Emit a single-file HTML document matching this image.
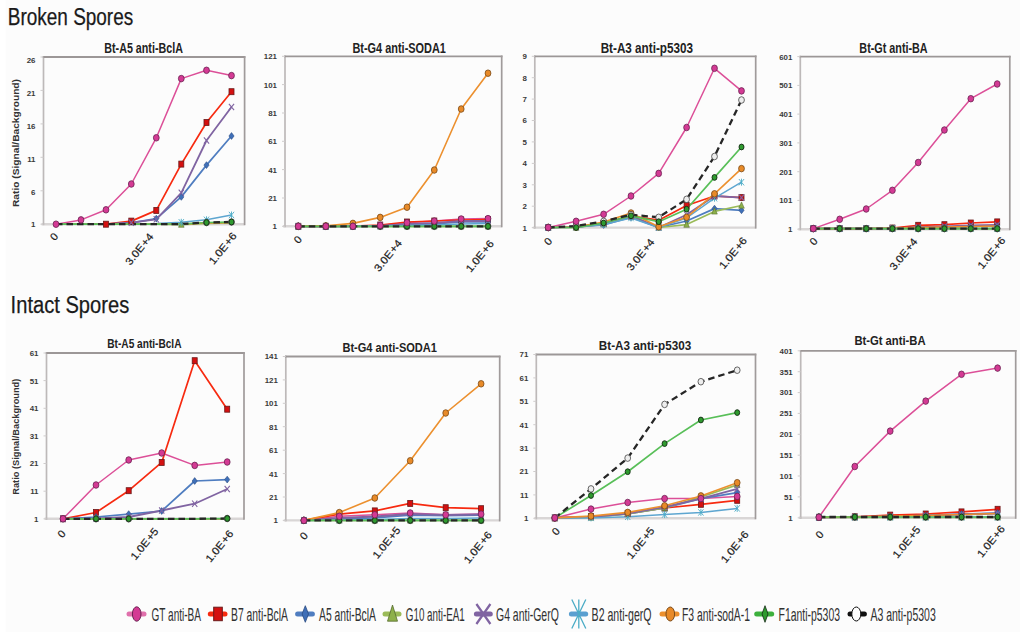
<!DOCTYPE html>
<html><head><meta charset="utf-8"><style>
html,body{margin:0;padding:0;background:#fdfdfd;}
svg{display:block;font-family:"Liberation Sans", sans-serif;}
</style></head><body>
<svg width="1024" height="632" viewBox="0 0 1024 632">
<rect width="1024" height="632" fill="#fcfcfc"/><rect width="5.5" height="632" fill="#ffffff"/><rect x="1020" width="4" height="632" fill="#ffffff"/>

<text x="7.8" y="25.3" font-size="23.5" stroke="#1a1a1a" stroke-width="0.25" textLength="125.4" lengthAdjust="spacingAndGlyphs" fill="#1a1a1a">Broken Spores</text>
<text x="10.6" y="313.2" font-size="23.5" stroke="#1a1a1a" stroke-width="0.25" textLength="118.6" lengthAdjust="spacingAndGlyphs" fill="#1a1a1a">Intact Spores</text>
<text x="18.7" y="143" font-size="9.5" font-weight="bold" text-anchor="middle" textLength="128" lengthAdjust="spacingAndGlyphs" transform="rotate(-90 18.7 143)" fill="#333">Ratio (Signal/Background)</text>
<text x="19" y="436.7" font-size="9" font-weight="bold" text-anchor="middle" textLength="116" lengthAdjust="spacingAndGlyphs" transform="rotate(-90 19 436.7)" fill="#333">Ratio (Signal/Background)</text>

<line x1="41.5" y1="224.2" x2="244.6" y2="224.2" stroke="#d9d6d6" stroke-width="2.4"/>
<line x1="43.5" y1="56.2" x2="43.5" y2="225.2" stroke="#bdb9b9" stroke-width="1.7"/>
<line x1="42.7" y1="57" x2="245.4" y2="57" stroke="#9c9797" stroke-width="1.8"/>
<line x1="244.6" y1="56.2" x2="244.6" y2="225.2" stroke="#a09b9b" stroke-width="1.7"/>
<line x1="40.5" y1="57.0" x2="43.5" y2="57.0" stroke="#cfcccc" stroke-width="1"/>
<text x="35.5" y="63.4" font-size="7.9" font-weight="bold" text-anchor="end" fill="#3a3a3a">26</text>
<line x1="40.5" y1="90.4" x2="43.5" y2="90.4" stroke="#cfcccc" stroke-width="1"/>
<text x="35.5" y="96.2" font-size="7.9" font-weight="bold" text-anchor="end" fill="#3a3a3a">21</text>
<line x1="40.5" y1="123.9" x2="43.5" y2="123.9" stroke="#cfcccc" stroke-width="1"/>
<text x="35.5" y="129.0" font-size="7.9" font-weight="bold" text-anchor="end" fill="#3a3a3a">16</text>
<line x1="40.5" y1="157.3" x2="43.5" y2="157.3" stroke="#cfcccc" stroke-width="1"/>
<text x="35.5" y="161.8" font-size="7.9" font-weight="bold" text-anchor="end" fill="#3a3a3a">11</text>
<line x1="40.5" y1="190.8" x2="43.5" y2="190.8" stroke="#cfcccc" stroke-width="1"/>
<text x="35.5" y="194.6" font-size="7.9" font-weight="bold" text-anchor="end" fill="#3a3a3a">6</text>
<line x1="40.5" y1="224.2" x2="43.5" y2="224.2" stroke="#cfcccc" stroke-width="1"/>
<text x="35.5" y="227.4" font-size="7.9" font-weight="bold" text-anchor="end" fill="#3a3a3a">1</text>
<text x="143.6" y="52.8" font-size="14" font-weight="bold" text-anchor="middle" textLength="78.6" lengthAdjust="spacingAndGlyphs" fill="#222">Bt-A5 anti-BclA</text>
<text x="54" y="240.2" font-size="10.5" text-anchor="middle" stroke="#1a1a1a" stroke-width="0.2" textLength="6.0" lengthAdjust="spacingAndGlyphs" transform="rotate(-51 54 236.6)" fill="#1a1a1a">0</text>
<text x="139.3" y="252.7" font-size="10.5" text-anchor="middle" stroke="#1a1a1a" stroke-width="0.2" textLength="37.5" lengthAdjust="spacingAndGlyphs" transform="rotate(-51 139.3 249.1)" fill="#1a1a1a">3.0E&#8202;+4</text>
<text x="222.7" y="252.0" font-size="10.5" text-anchor="middle" stroke="#1a1a1a" stroke-width="0.2" textLength="37.5" lengthAdjust="spacingAndGlyphs" transform="rotate(-51 222.7 248.4)" fill="#1a1a1a">1.0E&#8202;+6</text>
<path d="M56.0 224.2 L81.0 219.9 L106.0 209.8 L131.3 184.0 L156.3 137.8 L181.3 78.6 L206.5 70.3 L231.5 75.6" fill="none" stroke="#dc4f98" stroke-width="1.5" stroke-linejoin="round"/>
<path d="M56.0 224.2 L81.0 224.2 L106.0 224.2 L131.3 221.1 L156.3 210.4 L181.3 164.1 L206.5 122.5 L231.5 91.7" fill="none" stroke="#f72a10" stroke-width="1.7" stroke-linejoin="round"/>
<path d="M56.0 224.2 L81.0 224.2 L106.0 224.2 L131.3 222.8 L156.3 218.6 L181.3 196.9 L206.5 165.1 L231.5 136.0" fill="none" stroke="#4f7dc0" stroke-width="1.7" stroke-linejoin="round"/>
<path d="M56.0 224.2 L81.0 224.2 L106.0 224.2 L131.3 224.2 L156.3 224.2 L181.3 224.6 L206.5 223.5 L231.5 223.0" fill="none" stroke="#9bbb59" stroke-width="1.7" stroke-linejoin="round"/>
<path d="M56.0 224.2 L81.0 224.2 L106.0 224.2 L131.3 222.6 L156.3 219.3 L181.3 192.8 L206.5 140.5 L231.5 107.0" fill="none" stroke="#8064a2" stroke-width="1.8" stroke-linejoin="round"/>
<path d="M56.0 224.2 L81.0 224.2 L106.0 224.2 L131.3 224.0 L156.3 223.5 L181.3 222.3 L206.5 219.8 L231.5 215.0" fill="none" stroke="#5ea6d0" stroke-width="1.5" stroke-linejoin="round"/>
<path d="M56.0 224.2 L81.0 224.2 L106.0 224.2 L131.3 224.0 L156.3 224.0 L181.3 224.0 L206.5 223.0 L231.5 222.5" fill="none" stroke="#ec902e" stroke-width="1.6" stroke-linejoin="round"/>
<path d="M56.0 224.2 L81.0 224.2 L106.0 224.2 L131.3 224.2 L156.3 224.2 L181.3 224.0 L206.5 222.5 L231.5 222.0" fill="none" stroke="#58bf58" stroke-width="1.7" stroke-linejoin="round"/>
<path d="M56.0 224.2 L81.0 224.2 L106.0 224.2 L131.3 224.2 L156.3 224.2 L181.3 224.0 L206.5 222.5 L231.5 222.0" fill="none" stroke="#262626" stroke-width="2.3" stroke-linejoin="round" stroke-dasharray="6.5 4"/>
<rect x="103.5" y="221.2" width="5.0" height="6.0" fill="#d41010" stroke="#6a1a1a" stroke-width="0.8"/><rect x="128.8" y="218.1" width="5.0" height="6.0" fill="#d41010" stroke="#6a1a1a" stroke-width="0.8"/><rect x="153.8" y="207.4" width="5.0" height="6.0" fill="#d41010" stroke="#6a1a1a" stroke-width="0.8"/><rect x="178.8" y="161.1" width="5.0" height="6.0" fill="#d41010" stroke="#6a1a1a" stroke-width="0.8"/><rect x="204.0" y="119.5" width="5.0" height="6.0" fill="#d41010" stroke="#6a1a1a" stroke-width="0.8"/><rect x="229.0" y="88.7" width="5.0" height="6.0" fill="#d41010" stroke="#6a1a1a" stroke-width="0.8"/>
<path d="M156.3 215.2L158.9 218.6L156.3 222.0L153.7 218.6Z" fill="#3f6fb8" stroke="#2a4a80" stroke-width="0.5599999999999999"/><path d="M181.3 193.5L183.9 196.9L181.3 200.3L178.7 196.9Z" fill="#3f6fb8" stroke="#2a4a80" stroke-width="0.5599999999999999"/><path d="M206.5 161.7L209.1 165.1L206.5 168.5L203.9 165.1Z" fill="#3f6fb8" stroke="#2a4a80" stroke-width="0.5599999999999999"/><path d="M231.5 132.6L234.1 136.0L231.5 139.4L228.9 136.0Z" fill="#3f6fb8" stroke="#2a4a80" stroke-width="0.5599999999999999"/>
<path d="M181.3 221.0L184.1 227.3L178.5 227.3Z" fill="#8db04a" stroke="#556b2f" stroke-width="0.5599999999999999"/>
<path d="M128.7 219.4L133.9 225.8M133.9 219.4L128.7 225.8" stroke="#8064a2" stroke-width="1.1" fill="none"/><path d="M153.7 216.1L158.9 222.5M158.9 216.1L153.7 222.5" stroke="#8064a2" stroke-width="1.1" fill="none"/><path d="M178.7 189.6L183.9 196.0M183.9 189.6L178.7 196.0" stroke="#8064a2" stroke-width="1.1" fill="none"/><path d="M203.9 137.3L209.1 143.7M209.1 137.3L203.9 143.7" stroke="#8064a2" stroke-width="1.1" fill="none"/><path d="M228.9 103.8L234.1 110.2M234.1 103.8L228.9 110.2" stroke="#8064a2" stroke-width="1.1" fill="none"/>
<path d="M178.7 219.1L183.9 225.5M183.9 219.1L178.7 225.5M181.3 218.8L181.3 225.8" stroke="#4bacc6" stroke-width="0.9" fill="none"/><path d="M203.9 216.6L209.1 223.0M209.1 216.6L203.9 223.0M206.5 216.3L206.5 223.3" stroke="#4bacc6" stroke-width="0.9" fill="none"/><path d="M228.9 211.8L234.1 218.2M234.1 211.8L228.9 218.2M231.5 211.5L231.5 218.5" stroke="#4bacc6" stroke-width="0.9" fill="none"/>

<ellipse cx="206.5" cy="222.5" rx="2.90" ry="3.30" fill="#eeeeee" stroke="#444444" stroke-width="0.8"/><ellipse cx="231.5" cy="222.0" rx="2.90" ry="3.30" fill="#eeeeee" stroke="#444444" stroke-width="0.8"/>
<ellipse cx="206.5" cy="222.5" rx="2.5" ry="2.9" fill="#2f9a2f" stroke="#142a14" stroke-width="0.9"/><ellipse cx="231.5" cy="222.0" rx="2.5" ry="2.9" fill="#2f9a2f" stroke="#142a14" stroke-width="0.9"/>
<ellipse cx="56.0" cy="224.2" rx="2.90" ry="3.30" fill="#d43a94" stroke="#6a2352" stroke-width="0.8"/><ellipse cx="81.0" cy="219.9" rx="2.90" ry="3.30" fill="#d43a94" stroke="#6a2352" stroke-width="0.8"/><ellipse cx="106.0" cy="209.8" rx="2.90" ry="3.30" fill="#d43a94" stroke="#6a2352" stroke-width="0.8"/><ellipse cx="131.3" cy="184.0" rx="2.90" ry="3.30" fill="#d43a94" stroke="#6a2352" stroke-width="0.8"/><ellipse cx="156.3" cy="137.8" rx="2.90" ry="3.30" fill="#d43a94" stroke="#6a2352" stroke-width="0.8"/><ellipse cx="181.3" cy="78.6" rx="2.90" ry="3.30" fill="#d43a94" stroke="#6a2352" stroke-width="0.8"/><ellipse cx="206.5" cy="70.3" rx="2.90" ry="3.30" fill="#d43a94" stroke="#6a2352" stroke-width="0.8"/><ellipse cx="231.5" cy="75.6" rx="2.90" ry="3.30" fill="#d43a94" stroke="#6a2352" stroke-width="0.8"/><line x1="283" y1="226.3" x2="501.7" y2="226.3" stroke="#d9d6d6" stroke-width="2.4"/>
<line x1="285" y1="55.5" x2="285" y2="227.3" stroke="#bdb9b9" stroke-width="1.7"/>
<line x1="284.2" y1="56.3" x2="502.5" y2="56.3" stroke="#9c9797" stroke-width="1.8"/>
<line x1="501.7" y1="55.5" x2="501.7" y2="227.3" stroke="#a09b9b" stroke-width="1.7"/>
<line x1="282" y1="56.3" x2="285" y2="56.3" stroke="#cfcccc" stroke-width="1"/>
<text x="277" y="59.2" font-size="7.9" font-weight="bold" text-anchor="end" fill="#3a3a3a">121</text>
<line x1="282" y1="84.6" x2="285" y2="84.6" stroke="#cfcccc" stroke-width="1"/>
<text x="277" y="87.5" font-size="7.9" font-weight="bold" text-anchor="end" fill="#3a3a3a">101</text>
<line x1="282" y1="113.0" x2="285" y2="113.0" stroke="#cfcccc" stroke-width="1"/>
<text x="277" y="115.9" font-size="7.9" font-weight="bold" text-anchor="end" fill="#3a3a3a">81</text>
<line x1="282" y1="141.3" x2="285" y2="141.3" stroke="#cfcccc" stroke-width="1"/>
<text x="277" y="144.2" font-size="7.9" font-weight="bold" text-anchor="end" fill="#3a3a3a">61</text>
<line x1="282" y1="169.6" x2="285" y2="169.6" stroke="#cfcccc" stroke-width="1"/>
<text x="277" y="172.5" font-size="7.9" font-weight="bold" text-anchor="end" fill="#3a3a3a">41</text>
<line x1="282" y1="198.0" x2="285" y2="198.0" stroke="#cfcccc" stroke-width="1"/>
<text x="277" y="200.9" font-size="7.9" font-weight="bold" text-anchor="end" fill="#3a3a3a">21</text>
<line x1="282" y1="226.3" x2="285" y2="226.3" stroke="#cfcccc" stroke-width="1"/>
<text x="277" y="229.2" font-size="7.9" font-weight="bold" text-anchor="end" fill="#3a3a3a">1</text>
<text x="399.2" y="53.0" font-size="14" font-weight="bold" text-anchor="middle" textLength="93.5" lengthAdjust="spacingAndGlyphs" fill="#222">Bt-G4 anti-SODA1</text>
<text x="297.9" y="243.2" font-size="10.5" text-anchor="middle" stroke="#1a1a1a" stroke-width="0.2" textLength="6.0" lengthAdjust="spacingAndGlyphs" transform="rotate(-51 297.9 239.6)" fill="#1a1a1a">0</text>
<text x="387.9" y="259.2" font-size="10.5" text-anchor="middle" stroke="#1a1a1a" stroke-width="0.2" textLength="37.5" lengthAdjust="spacingAndGlyphs" transform="rotate(-51 387.9 255.6)" fill="#1a1a1a">3.0E&#8202;+4</text>
<text x="479.8" y="259.8" font-size="10.5" text-anchor="middle" stroke="#1a1a1a" stroke-width="0.2" textLength="37.5" lengthAdjust="spacingAndGlyphs" transform="rotate(-51 479.8 256.2)" fill="#1a1a1a">1.0E&#8202;+6</text>
<path d="M298.3 226.3 L325.8 226.3 L352.9 226.3 L380.2 225.4 L407.0 222.7 L434.3 221.1 L461.2 219.0 L488.0 218.6" fill="none" stroke="#dc4f98" stroke-width="1.5" stroke-linejoin="round"/>
<path d="M298.3 226.3 L325.8 226.3 L352.9 226.0 L380.2 225.0 L407.0 222.0 L434.3 221.0 L461.2 220.0 L488.0 219.5" fill="none" stroke="#f72a10" stroke-width="1.7" stroke-linejoin="round"/>
<path d="M298.3 226.3 L325.8 226.3 L352.9 226.3 L380.2 226.0 L407.0 225.0 L434.3 224.0 L461.2 222.0 L488.0 222.0" fill="none" stroke="#4f7dc0" stroke-width="1.7" stroke-linejoin="round"/>
<path d="M298.3 226.3 L325.8 226.3 L352.9 226.3 L380.2 226.3 L407.0 226.3 L434.3 226.3 L461.2 226.3 L488.0 226.3" fill="none" stroke="#9bbb59" stroke-width="1.7" stroke-linejoin="round"/>
<path d="M298.3 226.3 L325.8 226.3 L352.9 226.3 L380.2 226.0 L407.0 224.0 L434.3 223.0 L461.2 221.0 L488.0 221.0" fill="none" stroke="#8064a2" stroke-width="1.8" stroke-linejoin="round"/>
<path d="M298.3 226.3 L325.8 226.3 L352.9 226.3 L380.2 226.0 L407.0 225.5 L434.3 225.0 L461.2 224.0 L488.0 223.5" fill="none" stroke="#5ea6d0" stroke-width="1.5" stroke-linejoin="round"/>
<path d="M298.3 226.3 L325.8 225.9 L352.9 223.4 L380.2 217.4 L407.0 207.2 L434.3 170.0 L461.2 109.0 L488.0 73.2" fill="none" stroke="#ec902e" stroke-width="1.6" stroke-linejoin="round"/>
<path d="M298.3 226.3 L325.8 226.3 L352.9 226.3 L380.2 226.3 L407.0 226.3 L434.3 226.3 L461.2 226.3 L488.0 226.3" fill="none" stroke="#58bf58" stroke-width="1.7" stroke-linejoin="round"/>
<path d="M298.3 226.3 L325.8 226.3 L352.9 226.3 L380.2 226.3 L407.0 226.3 L434.3 226.3 L461.2 226.3 L488.0 226.3" fill="none" stroke="#262626" stroke-width="2.3" stroke-linejoin="round" stroke-dasharray="6.5 4"/>
<rect x="295.8" y="223.3" width="5.0" height="6.0" fill="#d41010" stroke="#6a1a1a" stroke-width="0.8"/><rect x="323.3" y="223.3" width="5.0" height="6.0" fill="#d41010" stroke="#6a1a1a" stroke-width="0.8"/><rect x="350.4" y="223.0" width="5.0" height="6.0" fill="#d41010" stroke="#6a1a1a" stroke-width="0.8"/><rect x="377.7" y="222.0" width="5.0" height="6.0" fill="#d41010" stroke="#6a1a1a" stroke-width="0.8"/><rect x="404.5" y="219.0" width="5.0" height="6.0" fill="#d41010" stroke="#6a1a1a" stroke-width="0.8"/><rect x="431.8" y="218.0" width="5.0" height="6.0" fill="#d41010" stroke="#6a1a1a" stroke-width="0.8"/><rect x="458.7" y="217.0" width="5.0" height="6.0" fill="#d41010" stroke="#6a1a1a" stroke-width="0.8"/><rect x="485.5" y="216.5" width="5.0" height="6.0" fill="#d41010" stroke="#6a1a1a" stroke-width="0.8"/>
<path d="M298.3 222.9L300.9 226.3L298.3 229.7L295.7 226.3Z" fill="#3f6fb8" stroke="#2a4a80" stroke-width="0.5599999999999999"/><path d="M325.8 222.9L328.4 226.3L325.8 229.7L323.2 226.3Z" fill="#3f6fb8" stroke="#2a4a80" stroke-width="0.5599999999999999"/><path d="M352.9 222.9L355.5 226.3L352.9 229.7L350.3 226.3Z" fill="#3f6fb8" stroke="#2a4a80" stroke-width="0.5599999999999999"/><path d="M380.2 222.6L382.8 226.0L380.2 229.4L377.6 226.0Z" fill="#3f6fb8" stroke="#2a4a80" stroke-width="0.5599999999999999"/><path d="M407.0 221.6L409.6 225.0L407.0 228.4L404.4 225.0Z" fill="#3f6fb8" stroke="#2a4a80" stroke-width="0.5599999999999999"/><path d="M434.3 220.6L436.9 224.0L434.3 227.4L431.7 224.0Z" fill="#3f6fb8" stroke="#2a4a80" stroke-width="0.5599999999999999"/><path d="M461.2 218.6L463.8 222.0L461.2 225.4L458.6 222.0Z" fill="#3f6fb8" stroke="#2a4a80" stroke-width="0.5599999999999999"/><path d="M488.0 218.6L490.6 222.0L488.0 225.4L485.4 222.0Z" fill="#3f6fb8" stroke="#2a4a80" stroke-width="0.5599999999999999"/>
<path d="M298.3 222.7L301.1 229.0L295.5 229.0Z" fill="#8db04a" stroke="#556b2f" stroke-width="0.5599999999999999"/><path d="M325.8 222.7L328.6 229.0L323.0 229.0Z" fill="#8db04a" stroke="#556b2f" stroke-width="0.5599999999999999"/><path d="M352.9 222.7L355.7 229.0L350.1 229.0Z" fill="#8db04a" stroke="#556b2f" stroke-width="0.5599999999999999"/><path d="M380.2 222.7L383.0 229.0L377.4 229.0Z" fill="#8db04a" stroke="#556b2f" stroke-width="0.5599999999999999"/><path d="M407.0 222.7L409.8 229.0L404.2 229.0Z" fill="#8db04a" stroke="#556b2f" stroke-width="0.5599999999999999"/><path d="M434.3 222.7L437.1 229.0L431.5 229.0Z" fill="#8db04a" stroke="#556b2f" stroke-width="0.5599999999999999"/><path d="M461.2 222.7L464.0 229.0L458.4 229.0Z" fill="#8db04a" stroke="#556b2f" stroke-width="0.5599999999999999"/><path d="M488.0 222.7L490.8 229.0L485.2 229.0Z" fill="#8db04a" stroke="#556b2f" stroke-width="0.5599999999999999"/>
<path d="M295.7 223.1L300.9 229.5M300.9 223.1L295.7 229.5" stroke="#8064a2" stroke-width="1.1" fill="none"/><path d="M323.2 223.1L328.4 229.5M328.4 223.1L323.2 229.5" stroke="#8064a2" stroke-width="1.1" fill="none"/><path d="M350.3 223.1L355.5 229.5M355.5 223.1L350.3 229.5" stroke="#8064a2" stroke-width="1.1" fill="none"/><path d="M377.6 222.8L382.8 229.2M382.8 222.8L377.6 229.2" stroke="#8064a2" stroke-width="1.1" fill="none"/><path d="M404.4 220.8L409.6 227.2M409.6 220.8L404.4 227.2" stroke="#8064a2" stroke-width="1.1" fill="none"/><path d="M431.7 219.8L436.9 226.2M436.9 219.8L431.7 226.2" stroke="#8064a2" stroke-width="1.1" fill="none"/><path d="M458.6 217.8L463.8 224.2M463.8 217.8L458.6 224.2" stroke="#8064a2" stroke-width="1.1" fill="none"/><path d="M485.4 217.8L490.6 224.2M490.6 217.8L485.4 224.2" stroke="#8064a2" stroke-width="1.1" fill="none"/>
<path d="M295.7 223.1L300.9 229.5M300.9 223.1L295.7 229.5M298.3 222.8L298.3 229.8" stroke="#4bacc6" stroke-width="0.9" fill="none"/><path d="M323.2 223.1L328.4 229.5M328.4 223.1L323.2 229.5M325.8 222.8L325.8 229.8" stroke="#4bacc6" stroke-width="0.9" fill="none"/><path d="M350.3 223.1L355.5 229.5M355.5 223.1L350.3 229.5M352.9 222.8L352.9 229.8" stroke="#4bacc6" stroke-width="0.9" fill="none"/><path d="M377.6 222.8L382.8 229.2M382.8 222.8L377.6 229.2M380.2 222.5L380.2 229.5" stroke="#4bacc6" stroke-width="0.9" fill="none"/><path d="M404.4 222.3L409.6 228.7M409.6 222.3L404.4 228.7M407.0 222.0L407.0 229.0" stroke="#4bacc6" stroke-width="0.9" fill="none"/><path d="M431.7 221.8L436.9 228.2M436.9 221.8L431.7 228.2M434.3 221.5L434.3 228.5" stroke="#4bacc6" stroke-width="0.9" fill="none"/><path d="M458.6 220.8L463.8 227.2M463.8 220.8L458.6 227.2M461.2 220.5L461.2 227.5" stroke="#4bacc6" stroke-width="0.9" fill="none"/><path d="M485.4 220.3L490.6 226.7M490.6 220.3L485.4 226.7M488.0 220.0L488.0 227.0" stroke="#4bacc6" stroke-width="0.9" fill="none"/>
<ellipse cx="298.3" cy="226.3" rx="2.90" ry="3.30" fill="#e88a28" stroke="#7a4a18" stroke-width="0.8"/><ellipse cx="325.8" cy="225.9" rx="2.90" ry="3.30" fill="#e88a28" stroke="#7a4a18" stroke-width="0.8"/><ellipse cx="352.9" cy="223.4" rx="2.90" ry="3.30" fill="#e88a28" stroke="#7a4a18" stroke-width="0.8"/><ellipse cx="380.2" cy="217.4" rx="2.90" ry="3.30" fill="#e88a28" stroke="#7a4a18" stroke-width="0.8"/><ellipse cx="407.0" cy="207.2" rx="2.90" ry="3.30" fill="#e88a28" stroke="#7a4a18" stroke-width="0.8"/><ellipse cx="434.3" cy="170.0" rx="2.90" ry="3.30" fill="#e88a28" stroke="#7a4a18" stroke-width="0.8"/><ellipse cx="461.2" cy="109.0" rx="2.90" ry="3.30" fill="#e88a28" stroke="#7a4a18" stroke-width="0.8"/><ellipse cx="488.0" cy="73.2" rx="2.90" ry="3.30" fill="#e88a28" stroke="#7a4a18" stroke-width="0.8"/>
<ellipse cx="298.3" cy="226.3" rx="2.90" ry="3.30" fill="#eeeeee" stroke="#444444" stroke-width="0.8"/><ellipse cx="325.8" cy="226.3" rx="2.90" ry="3.30" fill="#eeeeee" stroke="#444444" stroke-width="0.8"/><ellipse cx="352.9" cy="226.3" rx="2.90" ry="3.30" fill="#eeeeee" stroke="#444444" stroke-width="0.8"/><ellipse cx="380.2" cy="226.3" rx="2.90" ry="3.30" fill="#eeeeee" stroke="#444444" stroke-width="0.8"/><ellipse cx="407.0" cy="226.3" rx="2.90" ry="3.30" fill="#eeeeee" stroke="#444444" stroke-width="0.8"/><ellipse cx="434.3" cy="226.3" rx="2.90" ry="3.30" fill="#eeeeee" stroke="#444444" stroke-width="0.8"/><ellipse cx="461.2" cy="226.3" rx="2.90" ry="3.30" fill="#eeeeee" stroke="#444444" stroke-width="0.8"/><ellipse cx="488.0" cy="226.3" rx="2.90" ry="3.30" fill="#eeeeee" stroke="#444444" stroke-width="0.8"/>
<ellipse cx="298.3" cy="226.3" rx="2.5" ry="2.9" fill="#2f9a2f" stroke="#142a14" stroke-width="0.9"/><ellipse cx="325.8" cy="226.3" rx="2.5" ry="2.9" fill="#2f9a2f" stroke="#142a14" stroke-width="0.9"/><ellipse cx="352.9" cy="226.3" rx="2.5" ry="2.9" fill="#2f9a2f" stroke="#142a14" stroke-width="0.9"/><ellipse cx="380.2" cy="226.3" rx="2.5" ry="2.9" fill="#2f9a2f" stroke="#142a14" stroke-width="0.9"/><ellipse cx="407.0" cy="226.3" rx="2.5" ry="2.9" fill="#2f9a2f" stroke="#142a14" stroke-width="0.9"/><ellipse cx="434.3" cy="226.3" rx="2.5" ry="2.9" fill="#2f9a2f" stroke="#142a14" stroke-width="0.9"/><ellipse cx="461.2" cy="226.3" rx="2.5" ry="2.9" fill="#2f9a2f" stroke="#142a14" stroke-width="0.9"/><ellipse cx="488.0" cy="226.3" rx="2.5" ry="2.9" fill="#2f9a2f" stroke="#142a14" stroke-width="0.9"/>
<ellipse cx="298.3" cy="226.3" rx="2.90" ry="3.30" fill="#d43a94" stroke="#6a2352" stroke-width="0.8"/><ellipse cx="325.8" cy="226.3" rx="2.90" ry="3.30" fill="#d43a94" stroke="#6a2352" stroke-width="0.8"/><ellipse cx="352.9" cy="226.3" rx="2.90" ry="3.30" fill="#d43a94" stroke="#6a2352" stroke-width="0.8"/><ellipse cx="380.2" cy="225.4" rx="2.90" ry="3.30" fill="#d43a94" stroke="#6a2352" stroke-width="0.8"/><ellipse cx="407.0" cy="222.7" rx="2.90" ry="3.30" fill="#d43a94" stroke="#6a2352" stroke-width="0.8"/><ellipse cx="434.3" cy="221.1" rx="2.90" ry="3.30" fill="#d43a94" stroke="#6a2352" stroke-width="0.8"/><ellipse cx="461.2" cy="219.0" rx="2.90" ry="3.30" fill="#d43a94" stroke="#6a2352" stroke-width="0.8"/><ellipse cx="488.0" cy="218.6" rx="2.90" ry="3.30" fill="#d43a94" stroke="#6a2352" stroke-width="0.8"/><line x1="532.8" y1="227.6" x2="755.7" y2="227.6" stroke="#d9d6d6" stroke-width="2.4"/>
<line x1="534.8" y1="55.5" x2="534.8" y2="228.6" stroke="#bdb9b9" stroke-width="1.7"/>
<line x1="534.0" y1="56.3" x2="756.5" y2="56.3" stroke="#9c9797" stroke-width="1.8"/>
<line x1="755.7" y1="55.5" x2="755.7" y2="228.6" stroke="#a09b9b" stroke-width="1.7"/>
<line x1="531.8" y1="56.3" x2="534.8" y2="56.3" stroke="#cfcccc" stroke-width="1"/>
<text x="526.8" y="59.2" font-size="7.9" font-weight="bold" text-anchor="end" fill="#3a3a3a">9</text>
<line x1="531.8" y1="77.7" x2="534.8" y2="77.7" stroke="#cfcccc" stroke-width="1"/>
<text x="526.8" y="80.6" font-size="7.9" font-weight="bold" text-anchor="end" fill="#3a3a3a">8</text>
<line x1="531.8" y1="99.1" x2="534.8" y2="99.1" stroke="#cfcccc" stroke-width="1"/>
<text x="526.8" y="102.0" font-size="7.9" font-weight="bold" text-anchor="end" fill="#3a3a3a">7</text>
<line x1="531.8" y1="120.5" x2="534.8" y2="120.5" stroke="#cfcccc" stroke-width="1"/>
<text x="526.8" y="123.4" font-size="7.9" font-weight="bold" text-anchor="end" fill="#3a3a3a">6</text>
<line x1="531.8" y1="141.9" x2="534.8" y2="141.9" stroke="#cfcccc" stroke-width="1"/>
<text x="526.8" y="144.8" font-size="7.9" font-weight="bold" text-anchor="end" fill="#3a3a3a">5</text>
<line x1="531.8" y1="163.4" x2="534.8" y2="163.4" stroke="#cfcccc" stroke-width="1"/>
<text x="526.8" y="166.3" font-size="7.9" font-weight="bold" text-anchor="end" fill="#3a3a3a">4</text>
<line x1="531.8" y1="184.8" x2="534.8" y2="184.8" stroke="#cfcccc" stroke-width="1"/>
<text x="526.8" y="187.7" font-size="7.9" font-weight="bold" text-anchor="end" fill="#3a3a3a">3</text>
<line x1="531.8" y1="206.2" x2="534.8" y2="206.2" stroke="#cfcccc" stroke-width="1"/>
<text x="526.8" y="209.1" font-size="7.9" font-weight="bold" text-anchor="end" fill="#3a3a3a">2</text>
<line x1="531.8" y1="227.6" x2="534.8" y2="227.6" stroke="#cfcccc" stroke-width="1"/>
<text x="526.8" y="230.5" font-size="7.9" font-weight="bold" text-anchor="end" fill="#3a3a3a">1</text>
<text x="646.8" y="52.6" font-size="14" font-weight="bold" text-anchor="middle" textLength="92.3" lengthAdjust="spacingAndGlyphs" fill="#222">Bt-A3 anti-p5303</text>
<text x="548.2" y="245.1" font-size="10.5" text-anchor="middle" stroke="#1a1a1a" stroke-width="0.2" textLength="6.0" lengthAdjust="spacingAndGlyphs" transform="rotate(-51 548.2 241.5)" fill="#1a1a1a">0</text>
<text x="640.5" y="258.3" font-size="10.5" text-anchor="middle" stroke="#1a1a1a" stroke-width="0.2" textLength="37.5" lengthAdjust="spacingAndGlyphs" transform="rotate(-51 640.5 254.7)" fill="#1a1a1a">3.0E&#8202;+4</text>
<text x="733" y="256.6" font-size="10.5" text-anchor="middle" stroke="#1a1a1a" stroke-width="0.2" textLength="37.5" lengthAdjust="spacingAndGlyphs" transform="rotate(-51 733 253)" fill="#1a1a1a">1.0E&#8202;+6</text>
<path d="M548.2 227.5 L576.1 221.3 L603.6 214.3 L631.0 196.0 L658.7 173.4 L686.6 127.5 L714.5 68.3 L741.5 90.9" fill="none" stroke="#dc4f98" stroke-width="1.5" stroke-linejoin="round"/>
<path d="M548.2 227.5 L576.1 226.5 L603.6 223.5 L631.0 216.0 L658.7 220.2 L686.6 205.5 L714.5 196.0 L741.5 197.6" fill="none" stroke="#f72a10" stroke-width="1.7" stroke-linejoin="round"/>
<path d="M548.2 227.5 L576.1 227.0 L603.6 225.0 L631.0 217.3 L658.7 227.5 L686.6 221.0 L714.5 208.6 L741.5 210.3" fill="none" stroke="#4f7dc0" stroke-width="1.7" stroke-linejoin="round"/>
<path d="M548.2 227.5 L576.1 227.5 L603.6 224.0 L631.0 216.0 L658.7 227.5 L686.6 224.6 L714.5 211.4 L741.5 205.5" fill="none" stroke="#9bbb59" stroke-width="1.7" stroke-linejoin="round"/>
<path d="M548.2 227.5 L576.1 227.0 L603.6 223.5 L631.0 215.5 L658.7 227.5 L686.6 214.7 L714.5 196.0 L741.5 197.6" fill="none" stroke="#8064a2" stroke-width="1.8" stroke-linejoin="round"/>
<path d="M548.2 227.5 L576.1 227.0 L603.6 224.5 L631.0 218.0 L658.7 227.5 L686.6 218.0 L714.5 198.2 L741.5 182.2" fill="none" stroke="#5ea6d0" stroke-width="1.5" stroke-linejoin="round"/>
<path d="M548.2 227.5 L576.1 227.0 L603.6 222.0 L631.0 213.0 L658.7 226.8 L686.6 217.3 L714.5 193.8 L741.5 168.6" fill="none" stroke="#ec902e" stroke-width="1.6" stroke-linejoin="round"/>
<path d="M548.2 227.5 L576.1 227.5 L603.6 223.0 L631.0 215.8 L658.7 221.7 L686.6 209.2 L714.5 177.4 L741.5 147.0" fill="none" stroke="#58bf58" stroke-width="1.7" stroke-linejoin="round"/>
<path d="M548.2 227.5 L576.1 226.1 L603.6 221.3 L631.0 214.7 L658.7 217.3 L686.6 199.3 L714.5 156.5 L741.5 100.0" fill="none" stroke="#262626" stroke-width="2.3" stroke-linejoin="round" stroke-dasharray="6.5 4"/>
<rect x="545.7" y="224.5" width="5.0" height="6.0" fill="#d41010" stroke="#6a1a1a" stroke-width="0.8"/><rect x="573.6" y="223.5" width="5.0" height="6.0" fill="#d41010" stroke="#6a1a1a" stroke-width="0.8"/><rect x="601.1" y="220.5" width="5.0" height="6.0" fill="#d41010" stroke="#6a1a1a" stroke-width="0.8"/><rect x="628.5" y="213.0" width="5.0" height="6.0" fill="#d41010" stroke="#6a1a1a" stroke-width="0.8"/><rect x="656.2" y="217.2" width="5.0" height="6.0" fill="#d41010" stroke="#6a1a1a" stroke-width="0.8"/><rect x="684.1" y="202.5" width="5.0" height="6.0" fill="#d41010" stroke="#6a1a1a" stroke-width="0.8"/><rect x="712.0" y="193.0" width="5.0" height="6.0" fill="#d41010" stroke="#6a1a1a" stroke-width="0.8"/><rect x="739.0" y="194.6" width="5.0" height="6.0" fill="#d41010" stroke="#6a1a1a" stroke-width="0.8"/>
<path d="M548.2 224.1L550.8 227.5L548.2 230.9L545.6 227.5Z" fill="#3f6fb8" stroke="#2a4a80" stroke-width="0.5599999999999999"/><path d="M576.1 223.6L578.7 227.0L576.1 230.4L573.5 227.0Z" fill="#3f6fb8" stroke="#2a4a80" stroke-width="0.5599999999999999"/><path d="M603.6 221.6L606.2 225.0L603.6 228.4L601.0 225.0Z" fill="#3f6fb8" stroke="#2a4a80" stroke-width="0.5599999999999999"/><path d="M631.0 213.9L633.6 217.3L631.0 220.7L628.4 217.3Z" fill="#3f6fb8" stroke="#2a4a80" stroke-width="0.5599999999999999"/><path d="M658.7 224.1L661.3 227.5L658.7 230.9L656.1 227.5Z" fill="#3f6fb8" stroke="#2a4a80" stroke-width="0.5599999999999999"/><path d="M686.6 217.6L689.2 221.0L686.6 224.4L684.0 221.0Z" fill="#3f6fb8" stroke="#2a4a80" stroke-width="0.5599999999999999"/><path d="M714.5 205.2L717.1 208.6L714.5 212.0L711.9 208.6Z" fill="#3f6fb8" stroke="#2a4a80" stroke-width="0.5599999999999999"/><path d="M741.5 206.9L744.1 210.3L741.5 213.7L738.9 210.3Z" fill="#3f6fb8" stroke="#2a4a80" stroke-width="0.5599999999999999"/>
<path d="M548.2 223.9L551.0 230.2L545.4 230.2Z" fill="#8db04a" stroke="#556b2f" stroke-width="0.5599999999999999"/><path d="M576.1 223.9L578.9 230.2L573.3 230.2Z" fill="#8db04a" stroke="#556b2f" stroke-width="0.5599999999999999"/><path d="M603.6 220.4L606.4 226.7L600.8 226.7Z" fill="#8db04a" stroke="#556b2f" stroke-width="0.5599999999999999"/><path d="M631.0 212.4L633.8 218.7L628.2 218.7Z" fill="#8db04a" stroke="#556b2f" stroke-width="0.5599999999999999"/><path d="M658.7 223.9L661.5 230.2L655.9 230.2Z" fill="#8db04a" stroke="#556b2f" stroke-width="0.5599999999999999"/><path d="M686.6 221.0L689.4 227.3L683.8 227.3Z" fill="#8db04a" stroke="#556b2f" stroke-width="0.5599999999999999"/><path d="M714.5 207.8L717.3 214.1L711.7 214.1Z" fill="#8db04a" stroke="#556b2f" stroke-width="0.5599999999999999"/><path d="M741.5 201.9L744.3 208.2L738.7 208.2Z" fill="#8db04a" stroke="#556b2f" stroke-width="0.5599999999999999"/>
<path d="M545.6 224.3L550.8 230.7M550.8 224.3L545.6 230.7" stroke="#8064a2" stroke-width="1.1" fill="none"/><path d="M573.5 223.8L578.7 230.2M578.7 223.8L573.5 230.2" stroke="#8064a2" stroke-width="1.1" fill="none"/><path d="M601.0 220.3L606.2 226.7M606.2 220.3L601.0 226.7" stroke="#8064a2" stroke-width="1.1" fill="none"/><path d="M628.4 212.3L633.6 218.7M633.6 212.3L628.4 218.7" stroke="#8064a2" stroke-width="1.1" fill="none"/><path d="M656.1 224.3L661.3 230.7M661.3 224.3L656.1 230.7" stroke="#8064a2" stroke-width="1.1" fill="none"/><path d="M684.0 211.5L689.2 217.9M689.2 211.5L684.0 217.9" stroke="#8064a2" stroke-width="1.1" fill="none"/><path d="M711.9 192.8L717.1 199.2M717.1 192.8L711.9 199.2" stroke="#8064a2" stroke-width="1.1" fill="none"/><path d="M738.9 194.4L744.1 200.8M744.1 194.4L738.9 200.8" stroke="#8064a2" stroke-width="1.1" fill="none"/>
<path d="M545.6 224.3L550.8 230.7M550.8 224.3L545.6 230.7M548.2 224.0L548.2 231.0" stroke="#4bacc6" stroke-width="0.9" fill="none"/><path d="M573.5 223.8L578.7 230.2M578.7 223.8L573.5 230.2M576.1 223.5L576.1 230.5" stroke="#4bacc6" stroke-width="0.9" fill="none"/><path d="M601.0 221.3L606.2 227.7M606.2 221.3L601.0 227.7M603.6 221.0L603.6 228.0" stroke="#4bacc6" stroke-width="0.9" fill="none"/><path d="M628.4 214.8L633.6 221.2M633.6 214.8L628.4 221.2M631.0 214.5L631.0 221.5" stroke="#4bacc6" stroke-width="0.9" fill="none"/><path d="M656.1 224.3L661.3 230.7M661.3 224.3L656.1 230.7M658.7 224.0L658.7 231.0" stroke="#4bacc6" stroke-width="0.9" fill="none"/><path d="M684.0 214.8L689.2 221.2M689.2 214.8L684.0 221.2M686.6 214.5L686.6 221.5" stroke="#4bacc6" stroke-width="0.9" fill="none"/><path d="M711.9 195.0L717.1 201.4M717.1 195.0L711.9 201.4M714.5 194.7L714.5 201.7" stroke="#4bacc6" stroke-width="0.9" fill="none"/><path d="M738.9 179.0L744.1 185.4M744.1 179.0L738.9 185.4M741.5 178.7L741.5 185.7" stroke="#4bacc6" stroke-width="0.9" fill="none"/>
<ellipse cx="548.2" cy="227.5" rx="2.90" ry="3.30" fill="#e88a28" stroke="#7a4a18" stroke-width="0.8"/><ellipse cx="576.1" cy="227.0" rx="2.90" ry="3.30" fill="#e88a28" stroke="#7a4a18" stroke-width="0.8"/><ellipse cx="603.6" cy="222.0" rx="2.90" ry="3.30" fill="#e88a28" stroke="#7a4a18" stroke-width="0.8"/><ellipse cx="631.0" cy="213.0" rx="2.90" ry="3.30" fill="#e88a28" stroke="#7a4a18" stroke-width="0.8"/><ellipse cx="658.7" cy="226.8" rx="2.90" ry="3.30" fill="#e88a28" stroke="#7a4a18" stroke-width="0.8"/><ellipse cx="686.6" cy="217.3" rx="2.90" ry="3.30" fill="#e88a28" stroke="#7a4a18" stroke-width="0.8"/><ellipse cx="714.5" cy="193.8" rx="2.90" ry="3.30" fill="#e88a28" stroke="#7a4a18" stroke-width="0.8"/><ellipse cx="741.5" cy="168.6" rx="2.90" ry="3.30" fill="#e88a28" stroke="#7a4a18" stroke-width="0.8"/>
<ellipse cx="548.2" cy="227.5" rx="2.90" ry="3.30" fill="#eeeeee" stroke="#444444" stroke-width="0.8"/><ellipse cx="576.1" cy="226.1" rx="2.90" ry="3.30" fill="#eeeeee" stroke="#444444" stroke-width="0.8"/><ellipse cx="603.6" cy="221.3" rx="2.90" ry="3.30" fill="#eeeeee" stroke="#444444" stroke-width="0.8"/><ellipse cx="631.0" cy="214.7" rx="2.90" ry="3.30" fill="#eeeeee" stroke="#444444" stroke-width="0.8"/><ellipse cx="658.7" cy="217.3" rx="2.90" ry="3.30" fill="#eeeeee" stroke="#444444" stroke-width="0.8"/><ellipse cx="686.6" cy="199.3" rx="2.90" ry="3.30" fill="#eeeeee" stroke="#444444" stroke-width="0.8"/><ellipse cx="714.5" cy="156.5" rx="2.90" ry="3.30" fill="#eeeeee" stroke="#444444" stroke-width="0.8"/><ellipse cx="741.5" cy="100.0" rx="2.90" ry="3.30" fill="#eeeeee" stroke="#444444" stroke-width="0.8"/>
<ellipse cx="548.2" cy="227.5" rx="2.5" ry="2.9" fill="#2f9a2f" stroke="#142a14" stroke-width="0.9"/><ellipse cx="576.1" cy="227.5" rx="2.5" ry="2.9" fill="#2f9a2f" stroke="#142a14" stroke-width="0.9"/><ellipse cx="603.6" cy="223.0" rx="2.5" ry="2.9" fill="#2f9a2f" stroke="#142a14" stroke-width="0.9"/><ellipse cx="631.0" cy="215.8" rx="2.5" ry="2.9" fill="#2f9a2f" stroke="#142a14" stroke-width="0.9"/><ellipse cx="658.7" cy="221.7" rx="2.5" ry="2.9" fill="#2f9a2f" stroke="#142a14" stroke-width="0.9"/><ellipse cx="686.6" cy="209.2" rx="2.5" ry="2.9" fill="#2f9a2f" stroke="#142a14" stroke-width="0.9"/><ellipse cx="714.5" cy="177.4" rx="2.5" ry="2.9" fill="#2f9a2f" stroke="#142a14" stroke-width="0.9"/><ellipse cx="741.5" cy="147.0" rx="2.5" ry="2.9" fill="#2f9a2f" stroke="#142a14" stroke-width="0.9"/>
<ellipse cx="548.2" cy="227.5" rx="2.90" ry="3.30" fill="#d43a94" stroke="#6a2352" stroke-width="0.8"/><ellipse cx="576.1" cy="221.3" rx="2.90" ry="3.30" fill="#d43a94" stroke="#6a2352" stroke-width="0.8"/><ellipse cx="603.6" cy="214.3" rx="2.90" ry="3.30" fill="#d43a94" stroke="#6a2352" stroke-width="0.8"/><ellipse cx="631.0" cy="196.0" rx="2.90" ry="3.30" fill="#d43a94" stroke="#6a2352" stroke-width="0.8"/><ellipse cx="658.7" cy="173.4" rx="2.90" ry="3.30" fill="#d43a94" stroke="#6a2352" stroke-width="0.8"/><ellipse cx="686.6" cy="127.5" rx="2.90" ry="3.30" fill="#d43a94" stroke="#6a2352" stroke-width="0.8"/><ellipse cx="714.5" cy="68.3" rx="2.90" ry="3.30" fill="#d43a94" stroke="#6a2352" stroke-width="0.8"/><ellipse cx="741.5" cy="90.9" rx="2.90" ry="3.30" fill="#d43a94" stroke="#6a2352" stroke-width="0.8"/><line x1="798.3" y1="229.2" x2="1009.8" y2="229.2" stroke="#d9d6d6" stroke-width="2.4"/>
<line x1="800.3" y1="55.800000000000004" x2="800.3" y2="230.2" stroke="#bdb9b9" stroke-width="1.7"/>
<line x1="799.5" y1="56.6" x2="1010.5999999999999" y2="56.6" stroke="#9c9797" stroke-width="1.8"/>
<line x1="1009.8" y1="55.800000000000004" x2="1009.8" y2="230.2" stroke="#a09b9b" stroke-width="1.7"/>
<line x1="797.3" y1="56.6" x2="800.3" y2="56.6" stroke="#cfcccc" stroke-width="1"/>
<text x="792.3" y="59.5" font-size="7.9" font-weight="bold" text-anchor="end" fill="#3a3a3a">601</text>
<line x1="797.3" y1="85.4" x2="800.3" y2="85.4" stroke="#cfcccc" stroke-width="1"/>
<text x="792.3" y="88.3" font-size="7.9" font-weight="bold" text-anchor="end" fill="#3a3a3a">501</text>
<line x1="797.3" y1="114.1" x2="800.3" y2="114.1" stroke="#cfcccc" stroke-width="1"/>
<text x="792.3" y="117.0" font-size="7.9" font-weight="bold" text-anchor="end" fill="#3a3a3a">401</text>
<line x1="797.3" y1="142.9" x2="800.3" y2="142.9" stroke="#cfcccc" stroke-width="1"/>
<text x="792.3" y="145.8" font-size="7.9" font-weight="bold" text-anchor="end" fill="#3a3a3a">301</text>
<line x1="797.3" y1="171.7" x2="800.3" y2="171.7" stroke="#cfcccc" stroke-width="1"/>
<text x="792.3" y="174.6" font-size="7.9" font-weight="bold" text-anchor="end" fill="#3a3a3a">201</text>
<line x1="797.3" y1="200.4" x2="800.3" y2="200.4" stroke="#cfcccc" stroke-width="1"/>
<text x="792.3" y="203.3" font-size="7.9" font-weight="bold" text-anchor="end" fill="#3a3a3a">101</text>
<line x1="797.3" y1="229.2" x2="800.3" y2="229.2" stroke="#cfcccc" stroke-width="1"/>
<text x="792.3" y="232.1" font-size="7.9" font-weight="bold" text-anchor="end" fill="#3a3a3a">1</text>
<text x="893.5" y="53.0" font-size="14" font-weight="bold" text-anchor="middle" textLength="68.3" lengthAdjust="spacingAndGlyphs" fill="#222">Bt-Gt anti-BA</text>
<text x="813.6" y="245.0" font-size="10.5" text-anchor="middle" stroke="#1a1a1a" stroke-width="0.2" textLength="6.0" lengthAdjust="spacingAndGlyphs" transform="rotate(-51 813.6 241.4)" fill="#1a1a1a">0</text>
<text x="903.4" y="257.8" font-size="10.5" text-anchor="middle" stroke="#1a1a1a" stroke-width="0.2" textLength="37.5" lengthAdjust="spacingAndGlyphs" transform="rotate(-51 903.4 254.2)" fill="#1a1a1a">3.0E&#8202;+4</text>
<text x="991.4" y="256.5" font-size="10.5" text-anchor="middle" stroke="#1a1a1a" stroke-width="0.2" textLength="37.5" lengthAdjust="spacingAndGlyphs" transform="rotate(-51 991.4 252.9)" fill="#1a1a1a">1.0E&#8202;+6</text>
<path d="M813.3 228.6 L839.7 219.3 L866.2 209.0 L892.4 190.3 L918.2 162.5 L944.4 130.0 L970.8 98.7 L997.2 84.0" fill="none" stroke="#dc4f98" stroke-width="1.5" stroke-linejoin="round"/>
<path d="M813.3 228.6 L839.7 228.6 L866.2 228.6 L892.4 228.0 L918.2 225.3 L944.4 224.7 L970.8 223.0 L997.2 221.9" fill="none" stroke="#f72a10" stroke-width="1.7" stroke-linejoin="round"/>
<path d="M813.3 228.6 L839.7 228.6 L866.2 228.6 L892.4 228.6 L918.2 227.8 L944.4 227.3 L970.8 226.5 L997.2 226.0" fill="none" stroke="#4f7dc0" stroke-width="1.7" stroke-linejoin="round"/>
<path d="M813.3 228.6 L839.7 228.6 L866.2 228.6 L892.4 228.6 L918.2 228.6 L944.4 228.6 L970.8 228.6 L997.2 228.6" fill="none" stroke="#9bbb59" stroke-width="1.7" stroke-linejoin="round"/>
<path d="M813.3 228.6 L839.7 228.6 L866.2 228.6 L892.4 228.4 L918.2 227.2 L944.4 226.5 L970.8 225.5 L997.2 225.0" fill="none" stroke="#8064a2" stroke-width="1.8" stroke-linejoin="round"/>
<path d="M813.3 228.6 L839.7 228.6 L866.2 228.6 L892.4 228.6 L918.2 228.6 L944.4 228.6 L970.8 228.6 L997.2 228.6" fill="none" stroke="#5ea6d0" stroke-width="1.5" stroke-linejoin="round"/>
<path d="M813.3 228.6 L839.7 228.6 L866.2 228.6 L892.4 228.3 L918.2 227.5 L944.4 227.0 L970.8 226.5 L997.2 226.0" fill="none" stroke="#ec902e" stroke-width="1.6" stroke-linejoin="round"/>
<path d="M813.3 228.6 L839.7 228.6 L866.2 228.6 L892.4 228.6 L918.2 228.6 L944.4 228.6 L970.8 228.6 L997.2 228.6" fill="none" stroke="#58bf58" stroke-width="1.7" stroke-linejoin="round"/>
<path d="M813.3 228.6 L839.7 228.6 L866.2 228.6 L892.4 228.6 L918.2 228.6 L944.4 228.6 L970.8 228.6 L997.2 228.6" fill="none" stroke="#262626" stroke-width="2.3" stroke-linejoin="round" stroke-dasharray="6.5 4"/>
<rect x="810.8" y="225.6" width="5.0" height="6.0" fill="#d41010" stroke="#6a1a1a" stroke-width="0.8"/><rect x="837.2" y="225.6" width="5.0" height="6.0" fill="#d41010" stroke="#6a1a1a" stroke-width="0.8"/><rect x="863.7" y="225.6" width="5.0" height="6.0" fill="#d41010" stroke="#6a1a1a" stroke-width="0.8"/><rect x="889.9" y="225.0" width="5.0" height="6.0" fill="#d41010" stroke="#6a1a1a" stroke-width="0.8"/><rect x="915.7" y="222.3" width="5.0" height="6.0" fill="#d41010" stroke="#6a1a1a" stroke-width="0.8"/><rect x="941.9" y="221.7" width="5.0" height="6.0" fill="#d41010" stroke="#6a1a1a" stroke-width="0.8"/><rect x="968.3" y="220.0" width="5.0" height="6.0" fill="#d41010" stroke="#6a1a1a" stroke-width="0.8"/><rect x="994.7" y="218.9" width="5.0" height="6.0" fill="#d41010" stroke="#6a1a1a" stroke-width="0.8"/>
<path d="M813.3 225.2L815.9 228.6L813.3 232.0L810.7 228.6Z" fill="#3f6fb8" stroke="#2a4a80" stroke-width="0.5599999999999999"/><path d="M839.7 225.2L842.3 228.6L839.7 232.0L837.1 228.6Z" fill="#3f6fb8" stroke="#2a4a80" stroke-width="0.5599999999999999"/><path d="M866.2 225.2L868.8 228.6L866.2 232.0L863.6 228.6Z" fill="#3f6fb8" stroke="#2a4a80" stroke-width="0.5599999999999999"/><path d="M892.4 225.2L895.0 228.6L892.4 232.0L889.8 228.6Z" fill="#3f6fb8" stroke="#2a4a80" stroke-width="0.5599999999999999"/><path d="M918.2 224.4L920.8 227.8L918.2 231.2L915.6 227.8Z" fill="#3f6fb8" stroke="#2a4a80" stroke-width="0.5599999999999999"/><path d="M944.4 223.9L947.0 227.3L944.4 230.7L941.8 227.3Z" fill="#3f6fb8" stroke="#2a4a80" stroke-width="0.5599999999999999"/><path d="M970.8 223.1L973.4 226.5L970.8 229.9L968.2 226.5Z" fill="#3f6fb8" stroke="#2a4a80" stroke-width="0.5599999999999999"/><path d="M997.2 222.6L999.8 226.0L997.2 229.4L994.6 226.0Z" fill="#3f6fb8" stroke="#2a4a80" stroke-width="0.5599999999999999"/>
<path d="M813.3 225.0L816.1 231.3L810.5 231.3Z" fill="#8db04a" stroke="#556b2f" stroke-width="0.5599999999999999"/><path d="M839.7 225.0L842.5 231.3L836.9 231.3Z" fill="#8db04a" stroke="#556b2f" stroke-width="0.5599999999999999"/><path d="M866.2 225.0L869.0 231.3L863.4 231.3Z" fill="#8db04a" stroke="#556b2f" stroke-width="0.5599999999999999"/><path d="M892.4 225.0L895.2 231.3L889.6 231.3Z" fill="#8db04a" stroke="#556b2f" stroke-width="0.5599999999999999"/><path d="M918.2 225.0L921.0 231.3L915.4 231.3Z" fill="#8db04a" stroke="#556b2f" stroke-width="0.5599999999999999"/><path d="M944.4 225.0L947.2 231.3L941.6 231.3Z" fill="#8db04a" stroke="#556b2f" stroke-width="0.5599999999999999"/><path d="M970.8 225.0L973.6 231.3L968.0 231.3Z" fill="#8db04a" stroke="#556b2f" stroke-width="0.5599999999999999"/><path d="M997.2 225.0L1000.0 231.3L994.4 231.3Z" fill="#8db04a" stroke="#556b2f" stroke-width="0.5599999999999999"/>
<path d="M810.7 225.4L815.9 231.8M815.9 225.4L810.7 231.8" stroke="#8064a2" stroke-width="1.1" fill="none"/><path d="M837.1 225.4L842.3 231.8M842.3 225.4L837.1 231.8" stroke="#8064a2" stroke-width="1.1" fill="none"/><path d="M863.6 225.4L868.8 231.8M868.8 225.4L863.6 231.8" stroke="#8064a2" stroke-width="1.1" fill="none"/><path d="M889.8 225.2L895.0 231.6M895.0 225.2L889.8 231.6" stroke="#8064a2" stroke-width="1.1" fill="none"/><path d="M915.6 224.0L920.8 230.4M920.8 224.0L915.6 230.4" stroke="#8064a2" stroke-width="1.1" fill="none"/><path d="M941.8 223.3L947.0 229.7M947.0 223.3L941.8 229.7" stroke="#8064a2" stroke-width="1.1" fill="none"/><path d="M968.2 222.3L973.4 228.7M973.4 222.3L968.2 228.7" stroke="#8064a2" stroke-width="1.1" fill="none"/><path d="M994.6 221.8L999.8 228.2M999.8 221.8L994.6 228.2" stroke="#8064a2" stroke-width="1.1" fill="none"/>
<path d="M810.7 225.4L815.9 231.8M815.9 225.4L810.7 231.8M813.3 225.1L813.3 232.1" stroke="#4bacc6" stroke-width="0.9" fill="none"/><path d="M837.1 225.4L842.3 231.8M842.3 225.4L837.1 231.8M839.7 225.1L839.7 232.1" stroke="#4bacc6" stroke-width="0.9" fill="none"/><path d="M863.6 225.4L868.8 231.8M868.8 225.4L863.6 231.8M866.2 225.1L866.2 232.1" stroke="#4bacc6" stroke-width="0.9" fill="none"/><path d="M889.8 225.4L895.0 231.8M895.0 225.4L889.8 231.8M892.4 225.1L892.4 232.1" stroke="#4bacc6" stroke-width="0.9" fill="none"/><path d="M915.6 225.4L920.8 231.8M920.8 225.4L915.6 231.8M918.2 225.1L918.2 232.1" stroke="#4bacc6" stroke-width="0.9" fill="none"/><path d="M941.8 225.4L947.0 231.8M947.0 225.4L941.8 231.8M944.4 225.1L944.4 232.1" stroke="#4bacc6" stroke-width="0.9" fill="none"/><path d="M968.2 225.4L973.4 231.8M973.4 225.4L968.2 231.8M970.8 225.1L970.8 232.1" stroke="#4bacc6" stroke-width="0.9" fill="none"/><path d="M994.6 225.4L999.8 231.8M999.8 225.4L994.6 231.8M997.2 225.1L997.2 232.1" stroke="#4bacc6" stroke-width="0.9" fill="none"/>

<ellipse cx="813.3" cy="228.6" rx="2.90" ry="3.30" fill="#eeeeee" stroke="#444444" stroke-width="0.8"/><ellipse cx="839.7" cy="228.6" rx="2.90" ry="3.30" fill="#eeeeee" stroke="#444444" stroke-width="0.8"/><ellipse cx="866.2" cy="228.6" rx="2.90" ry="3.30" fill="#eeeeee" stroke="#444444" stroke-width="0.8"/><ellipse cx="892.4" cy="228.6" rx="2.90" ry="3.30" fill="#eeeeee" stroke="#444444" stroke-width="0.8"/><ellipse cx="918.2" cy="228.6" rx="2.90" ry="3.30" fill="#eeeeee" stroke="#444444" stroke-width="0.8"/><ellipse cx="944.4" cy="228.6" rx="2.90" ry="3.30" fill="#eeeeee" stroke="#444444" stroke-width="0.8"/><ellipse cx="970.8" cy="228.6" rx="2.90" ry="3.30" fill="#eeeeee" stroke="#444444" stroke-width="0.8"/><ellipse cx="997.2" cy="228.6" rx="2.90" ry="3.30" fill="#eeeeee" stroke="#444444" stroke-width="0.8"/>
<ellipse cx="813.3" cy="228.6" rx="2.5" ry="2.9" fill="#2f9a2f" stroke="#142a14" stroke-width="0.9"/><ellipse cx="839.7" cy="228.6" rx="2.5" ry="2.9" fill="#2f9a2f" stroke="#142a14" stroke-width="0.9"/><ellipse cx="866.2" cy="228.6" rx="2.5" ry="2.9" fill="#2f9a2f" stroke="#142a14" stroke-width="0.9"/><ellipse cx="892.4" cy="228.6" rx="2.5" ry="2.9" fill="#2f9a2f" stroke="#142a14" stroke-width="0.9"/><ellipse cx="918.2" cy="228.6" rx="2.5" ry="2.9" fill="#2f9a2f" stroke="#142a14" stroke-width="0.9"/><ellipse cx="944.4" cy="228.6" rx="2.5" ry="2.9" fill="#2f9a2f" stroke="#142a14" stroke-width="0.9"/><ellipse cx="970.8" cy="228.6" rx="2.5" ry="2.9" fill="#2f9a2f" stroke="#142a14" stroke-width="0.9"/><ellipse cx="997.2" cy="228.6" rx="2.5" ry="2.9" fill="#2f9a2f" stroke="#142a14" stroke-width="0.9"/>
<ellipse cx="813.3" cy="228.6" rx="2.90" ry="3.30" fill="#d43a94" stroke="#6a2352" stroke-width="0.8"/><ellipse cx="839.7" cy="219.3" rx="2.90" ry="3.30" fill="#d43a94" stroke="#6a2352" stroke-width="0.8"/><ellipse cx="866.2" cy="209.0" rx="2.90" ry="3.30" fill="#d43a94" stroke="#6a2352" stroke-width="0.8"/><ellipse cx="892.4" cy="190.3" rx="2.90" ry="3.30" fill="#d43a94" stroke="#6a2352" stroke-width="0.8"/><ellipse cx="918.2" cy="162.5" rx="2.90" ry="3.30" fill="#d43a94" stroke="#6a2352" stroke-width="0.8"/><ellipse cx="944.4" cy="130.0" rx="2.90" ry="3.30" fill="#d43a94" stroke="#6a2352" stroke-width="0.8"/><ellipse cx="970.8" cy="98.7" rx="2.90" ry="3.30" fill="#d43a94" stroke="#6a2352" stroke-width="0.8"/><ellipse cx="997.2" cy="84.0" rx="2.90" ry="3.30" fill="#d43a94" stroke="#6a2352" stroke-width="0.8"/><line x1="44.5" y1="518.8" x2="244" y2="518.8" stroke="#d9d6d6" stroke-width="2.4"/>
<line x1="46.5" y1="352.2" x2="46.5" y2="519.8" stroke="#bdb9b9" stroke-width="1.7"/>
<line x1="45.7" y1="353" x2="244.8" y2="353" stroke="#9c9797" stroke-width="1.8"/>
<line x1="244" y1="352.2" x2="244" y2="519.8" stroke="#a09b9b" stroke-width="1.7"/>
<line x1="43.5" y1="353.0" x2="46.5" y2="353.0" stroke="#cfcccc" stroke-width="1"/>
<text x="38.5" y="355.9" font-size="7.9" font-weight="bold" text-anchor="end" fill="#3a3a3a">61</text>
<line x1="43.5" y1="380.6" x2="46.5" y2="380.6" stroke="#cfcccc" stroke-width="1"/>
<text x="38.5" y="383.5" font-size="7.9" font-weight="bold" text-anchor="end" fill="#3a3a3a">51</text>
<line x1="43.5" y1="408.3" x2="46.5" y2="408.3" stroke="#cfcccc" stroke-width="1"/>
<text x="38.5" y="411.2" font-size="7.9" font-weight="bold" text-anchor="end" fill="#3a3a3a">41</text>
<line x1="43.5" y1="435.9" x2="46.5" y2="435.9" stroke="#cfcccc" stroke-width="1"/>
<text x="38.5" y="438.8" font-size="7.9" font-weight="bold" text-anchor="end" fill="#3a3a3a">31</text>
<line x1="43.5" y1="463.5" x2="46.5" y2="463.5" stroke="#cfcccc" stroke-width="1"/>
<text x="38.5" y="466.4" font-size="7.9" font-weight="bold" text-anchor="end" fill="#3a3a3a">21</text>
<line x1="43.5" y1="491.2" x2="46.5" y2="491.2" stroke="#cfcccc" stroke-width="1"/>
<text x="38.5" y="494.1" font-size="7.9" font-weight="bold" text-anchor="end" fill="#3a3a3a">11</text>
<line x1="43.5" y1="518.8" x2="46.5" y2="518.8" stroke="#cfcccc" stroke-width="1"/>
<text x="38.5" y="521.7" font-size="7.9" font-weight="bold" text-anchor="end" fill="#3a3a3a">1</text>
<text x="144.4" y="347.6" font-size="12.8" font-weight="bold" text-anchor="middle" textLength="74.2" lengthAdjust="spacingAndGlyphs" fill="#222">Bt-A5 anti-BclA</text>
<text x="61.5" y="537.5" font-size="10.5" text-anchor="middle" stroke="#1a1a1a" stroke-width="0.2" textLength="6.0" lengthAdjust="spacingAndGlyphs" transform="rotate(-51 61.5 533.9)" fill="#1a1a1a">0</text>
<text x="144.5" y="547.4" font-size="10.5" text-anchor="middle" stroke="#1a1a1a" stroke-width="0.2" textLength="37.5" lengthAdjust="spacingAndGlyphs" transform="rotate(-51 144.5 543.8)" fill="#1a1a1a">1.0E&#8202;+5</text>
<text x="219.4" y="549.8" font-size="10.5" text-anchor="middle" stroke="#1a1a1a" stroke-width="0.2" textLength="37.5" lengthAdjust="spacingAndGlyphs" transform="rotate(-51 219.4 546.2)" fill="#1a1a1a">1.0E&#8202;+6</text>
<path d="M63.0 518.8 L96.0 485.0 L128.7 460.0 L161.7 453.0 L194.7 465.4 L227.2 462.0" fill="none" stroke="#dc4f98" stroke-width="1.5" stroke-linejoin="round"/>
<path d="M63.0 518.8 L96.0 512.5 L128.7 490.7 L161.7 462.4 L194.7 360.7 L227.2 409.2" fill="none" stroke="#f72a10" stroke-width="1.7" stroke-linejoin="round"/>
<path d="M63.0 518.8 L96.0 517.0 L128.7 514.1 L161.7 511.0 L194.7 481.0 L227.2 479.6" fill="none" stroke="#4f7dc0" stroke-width="1.7" stroke-linejoin="round"/>
<path d="M63.0 518.8 L96.0 518.8 L128.7 518.8 L161.7 518.8 L194.7 518.8 L227.2 518.8" fill="none" stroke="#9bbb59" stroke-width="1.7" stroke-linejoin="round"/>
<path d="M63.0 518.8 L96.0 518.5 L128.7 517.0 L161.7 510.5 L194.7 503.7 L227.2 489.0" fill="none" stroke="#8064a2" stroke-width="1.8" stroke-linejoin="round"/>
<path d="M63.0 518.8 L96.0 518.8 L128.7 518.8 L161.7 518.8 L194.7 518.8 L227.2 518.8" fill="none" stroke="#5ea6d0" stroke-width="1.5" stroke-linejoin="round"/>
<path d="M63.0 518.8 L96.0 518.8 L128.7 518.8 L161.7 518.8 L194.7 518.8 L227.2 518.8" fill="none" stroke="#ec902e" stroke-width="1.6" stroke-linejoin="round"/>
<path d="M63.0 518.8 L96.0 518.8 L128.7 518.8 L161.7 518.8 L194.7 518.8 L227.2 518.5" fill="none" stroke="#58bf58" stroke-width="1.7" stroke-linejoin="round"/>
<path d="M63.0 518.8 L96.0 518.8 L128.7 518.8 L161.7 518.8 L194.7 518.8 L227.2 518.5" fill="none" stroke="#262626" stroke-width="2.3" stroke-linejoin="round" stroke-dasharray="6.5 4"/>
<rect x="60.5" y="515.8" width="5.0" height="6.0" fill="#d41010" stroke="#6a1a1a" stroke-width="0.8"/><rect x="93.5" y="509.5" width="5.0" height="6.0" fill="#d41010" stroke="#6a1a1a" stroke-width="0.8"/><rect x="126.2" y="487.7" width="5.0" height="6.0" fill="#d41010" stroke="#6a1a1a" stroke-width="0.8"/><rect x="159.2" y="459.4" width="5.0" height="6.0" fill="#d41010" stroke="#6a1a1a" stroke-width="0.8"/><rect x="192.2" y="357.7" width="5.0" height="6.0" fill="#d41010" stroke="#6a1a1a" stroke-width="0.8"/><rect x="224.7" y="406.2" width="5.0" height="6.0" fill="#d41010" stroke="#6a1a1a" stroke-width="0.8"/>
<path d="M63.0 515.4L65.6 518.8L63.0 522.2L60.4 518.8Z" fill="#3f6fb8" stroke="#2a4a80" stroke-width="0.5599999999999999"/><path d="M96.0 513.6L98.6 517.0L96.0 520.4L93.4 517.0Z" fill="#3f6fb8" stroke="#2a4a80" stroke-width="0.5599999999999999"/><path d="M128.7 510.7L131.3 514.1L128.7 517.5L126.1 514.1Z" fill="#3f6fb8" stroke="#2a4a80" stroke-width="0.5599999999999999"/><path d="M161.7 507.6L164.3 511.0L161.7 514.4L159.1 511.0Z" fill="#3f6fb8" stroke="#2a4a80" stroke-width="0.5599999999999999"/><path d="M194.7 477.6L197.3 481.0L194.7 484.4L192.1 481.0Z" fill="#3f6fb8" stroke="#2a4a80" stroke-width="0.5599999999999999"/><path d="M227.2 476.2L229.8 479.6L227.2 483.0L224.6 479.6Z" fill="#3f6fb8" stroke="#2a4a80" stroke-width="0.5599999999999999"/>

<path d="M60.4 515.6L65.6 522.0M65.6 515.6L60.4 522.0" stroke="#8064a2" stroke-width="1.1" fill="none"/><path d="M93.4 515.3L98.6 521.7M98.6 515.3L93.4 521.7" stroke="#8064a2" stroke-width="1.1" fill="none"/><path d="M126.1 513.8L131.3 520.2M131.3 513.8L126.1 520.2" stroke="#8064a2" stroke-width="1.1" fill="none"/><path d="M159.1 507.3L164.3 513.7M164.3 507.3L159.1 513.7" stroke="#8064a2" stroke-width="1.1" fill="none"/><path d="M192.1 500.5L197.3 506.9M197.3 500.5L192.1 506.9" stroke="#8064a2" stroke-width="1.1" fill="none"/><path d="M224.6 485.8L229.8 492.2M229.8 485.8L224.6 492.2" stroke="#8064a2" stroke-width="1.1" fill="none"/>


<ellipse cx="96.0" cy="518.8" rx="2.90" ry="3.30" fill="#eeeeee" stroke="#444444" stroke-width="0.8"/><ellipse cx="128.7" cy="518.8" rx="2.90" ry="3.30" fill="#eeeeee" stroke="#444444" stroke-width="0.8"/><ellipse cx="227.2" cy="518.5" rx="2.90" ry="3.30" fill="#eeeeee" stroke="#444444" stroke-width="0.8"/>
<ellipse cx="96.0" cy="518.8" rx="2.5" ry="2.9" fill="#2f9a2f" stroke="#142a14" stroke-width="0.9"/><ellipse cx="128.7" cy="518.8" rx="2.5" ry="2.9" fill="#2f9a2f" stroke="#142a14" stroke-width="0.9"/><ellipse cx="227.2" cy="518.5" rx="2.5" ry="2.9" fill="#2f9a2f" stroke="#142a14" stroke-width="0.9"/>
<ellipse cx="63.0" cy="518.8" rx="2.90" ry="3.30" fill="#d43a94" stroke="#6a2352" stroke-width="0.8"/><ellipse cx="96.0" cy="485.0" rx="2.90" ry="3.30" fill="#d43a94" stroke="#6a2352" stroke-width="0.8"/><ellipse cx="128.7" cy="460.0" rx="2.90" ry="3.30" fill="#d43a94" stroke="#6a2352" stroke-width="0.8"/><ellipse cx="161.7" cy="453.0" rx="2.90" ry="3.30" fill="#d43a94" stroke="#6a2352" stroke-width="0.8"/><ellipse cx="194.7" cy="465.4" rx="2.90" ry="3.30" fill="#d43a94" stroke="#6a2352" stroke-width="0.8"/><ellipse cx="227.2" cy="462.0" rx="2.90" ry="3.30" fill="#d43a94" stroke="#6a2352" stroke-width="0.8"/><line x1="283.8" y1="520.4" x2="499.7" y2="520.4" stroke="#d9d6d6" stroke-width="2.4"/>
<line x1="285.8" y1="355.7" x2="285.8" y2="521.4" stroke="#bdb9b9" stroke-width="1.7"/>
<line x1="285.0" y1="356.5" x2="500.5" y2="356.5" stroke="#9c9797" stroke-width="1.8"/>
<line x1="499.7" y1="355.7" x2="499.7" y2="521.4" stroke="#a09b9b" stroke-width="1.7"/>
<line x1="282.8" y1="356.5" x2="285.8" y2="356.5" stroke="#cfcccc" stroke-width="1"/>
<text x="277.8" y="359.4" font-size="7.9" font-weight="bold" text-anchor="end" fill="#3a3a3a">141</text>
<line x1="282.8" y1="379.9" x2="285.8" y2="379.9" stroke="#cfcccc" stroke-width="1"/>
<text x="277.8" y="382.8" font-size="7.9" font-weight="bold" text-anchor="end" fill="#3a3a3a">121</text>
<line x1="282.8" y1="403.3" x2="285.8" y2="403.3" stroke="#cfcccc" stroke-width="1"/>
<text x="277.8" y="406.2" font-size="7.9" font-weight="bold" text-anchor="end" fill="#3a3a3a">101</text>
<line x1="282.8" y1="426.7" x2="285.8" y2="426.7" stroke="#cfcccc" stroke-width="1"/>
<text x="277.8" y="429.6" font-size="7.9" font-weight="bold" text-anchor="end" fill="#3a3a3a">81</text>
<line x1="282.8" y1="450.2" x2="285.8" y2="450.2" stroke="#cfcccc" stroke-width="1"/>
<text x="277.8" y="453.1" font-size="7.9" font-weight="bold" text-anchor="end" fill="#3a3a3a">61</text>
<line x1="282.8" y1="473.6" x2="285.8" y2="473.6" stroke="#cfcccc" stroke-width="1"/>
<text x="277.8" y="476.5" font-size="7.9" font-weight="bold" text-anchor="end" fill="#3a3a3a">41</text>
<line x1="282.8" y1="497.0" x2="285.8" y2="497.0" stroke="#cfcccc" stroke-width="1"/>
<text x="277.8" y="499.9" font-size="7.9" font-weight="bold" text-anchor="end" fill="#3a3a3a">21</text>
<line x1="282.8" y1="520.4" x2="285.8" y2="520.4" stroke="#cfcccc" stroke-width="1"/>
<text x="277.8" y="523.3" font-size="7.9" font-weight="bold" text-anchor="end" fill="#3a3a3a">1</text>
<text x="389.7" y="352" font-size="12.8" font-weight="bold" text-anchor="middle" textLength="94.6" lengthAdjust="spacingAndGlyphs" fill="#222">Bt-G4 anti-SODA1</text>
<text x="303.9" y="539.6" font-size="10.5" text-anchor="middle" stroke="#1a1a1a" stroke-width="0.2" textLength="6.0" lengthAdjust="spacingAndGlyphs" transform="rotate(-51 303.9 536)" fill="#1a1a1a">0</text>
<text x="386.5" y="546.2" font-size="10.5" text-anchor="middle" stroke="#1a1a1a" stroke-width="0.2" textLength="37.5" lengthAdjust="spacingAndGlyphs" transform="rotate(-51 386.5 542.6)" fill="#1a1a1a">1.0E&#8202;+5</text>
<text x="477.8" y="550.9" font-size="10.5" text-anchor="middle" stroke="#1a1a1a" stroke-width="0.2" textLength="37.5" lengthAdjust="spacingAndGlyphs" transform="rotate(-51 477.8 547.3)" fill="#1a1a1a">1.0E&#8202;+6</text>
<path d="M303.9 520.4 L339.3 516.3 L374.8 514.8 L410.2 513.0 L445.7 514.8 L481.1 514.1" fill="none" stroke="#dc4f98" stroke-width="1.5" stroke-linejoin="round"/>
<path d="M303.9 520.4 L339.3 514.1 L374.8 510.9 L410.2 503.4 L445.7 507.7 L481.1 508.7" fill="none" stroke="#f72a10" stroke-width="1.7" stroke-linejoin="round"/>
<path d="M303.9 520.4 L339.3 519.0 L374.8 517.8 L410.2 515.2 L445.7 515.6 L481.1 515.2" fill="none" stroke="#4f7dc0" stroke-width="1.7" stroke-linejoin="round"/>
<path d="M303.9 520.4 L339.3 520.4 L374.8 520.4 L410.2 520.4 L445.7 520.4 L481.1 520.4" fill="none" stroke="#9bbb59" stroke-width="1.7" stroke-linejoin="round"/>
<path d="M303.9 520.4 L339.3 518.0 L374.8 516.5 L410.2 514.0 L445.7 515.0 L481.1 514.5" fill="none" stroke="#8064a2" stroke-width="1.8" stroke-linejoin="round"/>
<path d="M303.9 520.4 L339.3 520.0 L374.8 519.5 L410.2 518.5 L445.7 518.5 L481.1 518.0" fill="none" stroke="#5ea6d0" stroke-width="1.5" stroke-linejoin="round"/>
<path d="M303.9 520.4 L339.3 512.6 L374.8 498.0 L410.2 460.8 L445.7 413.0 L481.1 383.8" fill="none" stroke="#ec902e" stroke-width="1.6" stroke-linejoin="round"/>
<path d="M303.9 520.4 L339.3 520.4 L374.8 520.4 L410.2 520.4 L445.7 520.4 L481.1 520.4" fill="none" stroke="#58bf58" stroke-width="1.7" stroke-linejoin="round"/>
<path d="M303.9 520.4 L339.3 520.4 L374.8 520.4 L410.2 520.4 L445.7 520.4 L481.1 520.4" fill="none" stroke="#262626" stroke-width="2.3" stroke-linejoin="round" stroke-dasharray="6.5 4"/>
<rect x="301.4" y="517.4" width="5.0" height="6.0" fill="#d41010" stroke="#6a1a1a" stroke-width="0.8"/><rect x="336.8" y="511.1" width="5.0" height="6.0" fill="#d41010" stroke="#6a1a1a" stroke-width="0.8"/><rect x="372.3" y="507.9" width="5.0" height="6.0" fill="#d41010" stroke="#6a1a1a" stroke-width="0.8"/><rect x="407.7" y="500.4" width="5.0" height="6.0" fill="#d41010" stroke="#6a1a1a" stroke-width="0.8"/><rect x="443.2" y="504.7" width="5.0" height="6.0" fill="#d41010" stroke="#6a1a1a" stroke-width="0.8"/><rect x="478.6" y="505.7" width="5.0" height="6.0" fill="#d41010" stroke="#6a1a1a" stroke-width="0.8"/>
<path d="M303.9 517.0L306.5 520.4L303.9 523.8L301.3 520.4Z" fill="#3f6fb8" stroke="#2a4a80" stroke-width="0.5599999999999999"/><path d="M339.3 515.6L341.9 519.0L339.3 522.4L336.7 519.0Z" fill="#3f6fb8" stroke="#2a4a80" stroke-width="0.5599999999999999"/><path d="M374.8 514.4L377.4 517.8L374.8 521.2L372.2 517.8Z" fill="#3f6fb8" stroke="#2a4a80" stroke-width="0.5599999999999999"/><path d="M410.2 511.8L412.8 515.2L410.2 518.6L407.6 515.2Z" fill="#3f6fb8" stroke="#2a4a80" stroke-width="0.5599999999999999"/><path d="M445.7 512.2L448.3 515.6L445.7 519.0L443.1 515.6Z" fill="#3f6fb8" stroke="#2a4a80" stroke-width="0.5599999999999999"/><path d="M481.1 511.8L483.7 515.2L481.1 518.6L478.5 515.2Z" fill="#3f6fb8" stroke="#2a4a80" stroke-width="0.5599999999999999"/>
<path d="M303.9 516.8L306.7 523.1L301.1 523.1Z" fill="#8db04a" stroke="#556b2f" stroke-width="0.5599999999999999"/><path d="M339.3 516.8L342.1 523.1L336.5 523.1Z" fill="#8db04a" stroke="#556b2f" stroke-width="0.5599999999999999"/><path d="M374.8 516.8L377.6 523.1L372.0 523.1Z" fill="#8db04a" stroke="#556b2f" stroke-width="0.5599999999999999"/><path d="M410.2 516.8L413.0 523.1L407.4 523.1Z" fill="#8db04a" stroke="#556b2f" stroke-width="0.5599999999999999"/><path d="M445.7 516.8L448.5 523.1L442.9 523.1Z" fill="#8db04a" stroke="#556b2f" stroke-width="0.5599999999999999"/><path d="M481.1 516.8L483.9 523.1L478.3 523.1Z" fill="#8db04a" stroke="#556b2f" stroke-width="0.5599999999999999"/>
<path d="M301.3 517.2L306.5 523.6M306.5 517.2L301.3 523.6" stroke="#8064a2" stroke-width="1.1" fill="none"/><path d="M336.7 514.8L341.9 521.2M341.9 514.8L336.7 521.2" stroke="#8064a2" stroke-width="1.1" fill="none"/><path d="M372.2 513.3L377.4 519.7M377.4 513.3L372.2 519.7" stroke="#8064a2" stroke-width="1.1" fill="none"/><path d="M407.6 510.8L412.8 517.2M412.8 510.8L407.6 517.2" stroke="#8064a2" stroke-width="1.1" fill="none"/><path d="M443.1 511.8L448.3 518.2M448.3 511.8L443.1 518.2" stroke="#8064a2" stroke-width="1.1" fill="none"/><path d="M478.5 511.3L483.7 517.7M483.7 511.3L478.5 517.7" stroke="#8064a2" stroke-width="1.1" fill="none"/>
<path d="M301.3 517.2L306.5 523.6M306.5 517.2L301.3 523.6M303.9 516.9L303.9 523.9" stroke="#4bacc6" stroke-width="0.9" fill="none"/><path d="M336.7 516.8L341.9 523.2M341.9 516.8L336.7 523.2M339.3 516.5L339.3 523.5" stroke="#4bacc6" stroke-width="0.9" fill="none"/><path d="M372.2 516.3L377.4 522.7M377.4 516.3L372.2 522.7M374.8 516.0L374.8 523.0" stroke="#4bacc6" stroke-width="0.9" fill="none"/><path d="M407.6 515.3L412.8 521.7M412.8 515.3L407.6 521.7M410.2 515.0L410.2 522.0" stroke="#4bacc6" stroke-width="0.9" fill="none"/><path d="M443.1 515.3L448.3 521.7M448.3 515.3L443.1 521.7M445.7 515.0L445.7 522.0" stroke="#4bacc6" stroke-width="0.9" fill="none"/><path d="M478.5 514.8L483.7 521.2M483.7 514.8L478.5 521.2M481.1 514.5L481.1 521.5" stroke="#4bacc6" stroke-width="0.9" fill="none"/>
<ellipse cx="303.9" cy="520.4" rx="2.90" ry="3.30" fill="#e88a28" stroke="#7a4a18" stroke-width="0.8"/><ellipse cx="339.3" cy="512.6" rx="2.90" ry="3.30" fill="#e88a28" stroke="#7a4a18" stroke-width="0.8"/><ellipse cx="374.8" cy="498.0" rx="2.90" ry="3.30" fill="#e88a28" stroke="#7a4a18" stroke-width="0.8"/><ellipse cx="410.2" cy="460.8" rx="2.90" ry="3.30" fill="#e88a28" stroke="#7a4a18" stroke-width="0.8"/><ellipse cx="445.7" cy="413.0" rx="2.90" ry="3.30" fill="#e88a28" stroke="#7a4a18" stroke-width="0.8"/><ellipse cx="481.1" cy="383.8" rx="2.90" ry="3.30" fill="#e88a28" stroke="#7a4a18" stroke-width="0.8"/>
<ellipse cx="303.9" cy="520.4" rx="2.90" ry="3.30" fill="#eeeeee" stroke="#444444" stroke-width="0.8"/><ellipse cx="339.3" cy="520.4" rx="2.90" ry="3.30" fill="#eeeeee" stroke="#444444" stroke-width="0.8"/><ellipse cx="374.8" cy="520.4" rx="2.90" ry="3.30" fill="#eeeeee" stroke="#444444" stroke-width="0.8"/><ellipse cx="410.2" cy="520.4" rx="2.90" ry="3.30" fill="#eeeeee" stroke="#444444" stroke-width="0.8"/><ellipse cx="445.7" cy="520.4" rx="2.90" ry="3.30" fill="#eeeeee" stroke="#444444" stroke-width="0.8"/><ellipse cx="481.1" cy="520.4" rx="2.90" ry="3.30" fill="#eeeeee" stroke="#444444" stroke-width="0.8"/>
<ellipse cx="303.9" cy="520.4" rx="2.5" ry="2.9" fill="#2f9a2f" stroke="#142a14" stroke-width="0.9"/><ellipse cx="339.3" cy="520.4" rx="2.5" ry="2.9" fill="#2f9a2f" stroke="#142a14" stroke-width="0.9"/><ellipse cx="374.8" cy="520.4" rx="2.5" ry="2.9" fill="#2f9a2f" stroke="#142a14" stroke-width="0.9"/><ellipse cx="410.2" cy="520.4" rx="2.5" ry="2.9" fill="#2f9a2f" stroke="#142a14" stroke-width="0.9"/><ellipse cx="445.7" cy="520.4" rx="2.5" ry="2.9" fill="#2f9a2f" stroke="#142a14" stroke-width="0.9"/><ellipse cx="481.1" cy="520.4" rx="2.5" ry="2.9" fill="#2f9a2f" stroke="#142a14" stroke-width="0.9"/>
<ellipse cx="303.9" cy="520.4" rx="2.90" ry="3.30" fill="#d43a94" stroke="#6a2352" stroke-width="0.8"/><ellipse cx="339.3" cy="516.3" rx="2.90" ry="3.30" fill="#d43a94" stroke="#6a2352" stroke-width="0.8"/><ellipse cx="374.8" cy="514.8" rx="2.90" ry="3.30" fill="#d43a94" stroke="#6a2352" stroke-width="0.8"/><ellipse cx="410.2" cy="513.0" rx="2.90" ry="3.30" fill="#d43a94" stroke="#6a2352" stroke-width="0.8"/><ellipse cx="445.7" cy="514.8" rx="2.90" ry="3.30" fill="#d43a94" stroke="#6a2352" stroke-width="0.8"/><ellipse cx="481.1" cy="514.1" rx="2.90" ry="3.30" fill="#d43a94" stroke="#6a2352" stroke-width="0.8"/><line x1="534.3" y1="518.3" x2="755.5" y2="518.3" stroke="#d9d6d6" stroke-width="2.4"/>
<line x1="536.3" y1="353.7" x2="536.3" y2="519.3" stroke="#bdb9b9" stroke-width="1.7"/>
<line x1="535.5" y1="354.5" x2="756.3" y2="354.5" stroke="#9c9797" stroke-width="1.8"/>
<line x1="755.5" y1="353.7" x2="755.5" y2="519.3" stroke="#a09b9b" stroke-width="1.7"/>
<line x1="533.3" y1="354.5" x2="536.3" y2="354.5" stroke="#cfcccc" stroke-width="1"/>
<text x="528.3" y="357.4" font-size="7.9" font-weight="bold" text-anchor="end" fill="#3a3a3a">71</text>
<line x1="533.3" y1="377.9" x2="536.3" y2="377.9" stroke="#cfcccc" stroke-width="1"/>
<text x="528.3" y="380.8" font-size="7.9" font-weight="bold" text-anchor="end" fill="#3a3a3a">61</text>
<line x1="533.3" y1="401.3" x2="536.3" y2="401.3" stroke="#cfcccc" stroke-width="1"/>
<text x="528.3" y="404.2" font-size="7.9" font-weight="bold" text-anchor="end" fill="#3a3a3a">51</text>
<line x1="533.3" y1="424.7" x2="536.3" y2="424.7" stroke="#cfcccc" stroke-width="1"/>
<text x="528.3" y="427.6" font-size="7.9" font-weight="bold" text-anchor="end" fill="#3a3a3a">41</text>
<line x1="533.3" y1="448.1" x2="536.3" y2="448.1" stroke="#cfcccc" stroke-width="1"/>
<text x="528.3" y="451.0" font-size="7.9" font-weight="bold" text-anchor="end" fill="#3a3a3a">31</text>
<line x1="533.3" y1="471.5" x2="536.3" y2="471.5" stroke="#cfcccc" stroke-width="1"/>
<text x="528.3" y="474.4" font-size="7.9" font-weight="bold" text-anchor="end" fill="#3a3a3a">21</text>
<line x1="533.3" y1="494.9" x2="536.3" y2="494.9" stroke="#cfcccc" stroke-width="1"/>
<text x="528.3" y="497.8" font-size="7.9" font-weight="bold" text-anchor="end" fill="#3a3a3a">11</text>
<line x1="533.3" y1="518.3" x2="536.3" y2="518.3" stroke="#cfcccc" stroke-width="1"/>
<text x="528.3" y="521.2" font-size="7.9" font-weight="bold" text-anchor="end" fill="#3a3a3a">1</text>
<text x="645" y="349.6" font-size="12.8" font-weight="bold" text-anchor="middle" textLength="92.4" lengthAdjust="spacingAndGlyphs" fill="#222">Bt-A3 anti-p5303</text>
<text x="555.9" y="535.1" font-size="10.5" text-anchor="middle" stroke="#1a1a1a" stroke-width="0.2" textLength="6.0" lengthAdjust="spacingAndGlyphs" transform="rotate(-51 555.9 531.5)" fill="#1a1a1a">0</text>
<text x="640.5" y="546.6" font-size="10.5" text-anchor="middle" stroke="#1a1a1a" stroke-width="0.2" textLength="37.5" lengthAdjust="spacingAndGlyphs" transform="rotate(-51 640.5 543)" fill="#1a1a1a">1.0E&#8202;+5</text>
<text x="734.7" y="550.5" font-size="10.5" text-anchor="middle" stroke="#1a1a1a" stroke-width="0.2" textLength="37.5" lengthAdjust="spacingAndGlyphs" transform="rotate(-51 734.7 546.9)" fill="#1a1a1a">1.0E&#8202;+6</text>
<path d="M554.8 517.9 L591.0 509.1 L627.7 502.5 L664.6 498.6 L700.9 498.6 L737.2 496.4" fill="none" stroke="#dc4f98" stroke-width="1.5" stroke-linejoin="round"/>
<path d="M554.8 517.9 L591.0 516.5 L627.7 513.5 L664.6 508.0 L700.9 504.3 L737.2 500.3" fill="none" stroke="#f72a10" stroke-width="1.7" stroke-linejoin="round"/>
<path d="M554.8 517.9 L591.0 517.0 L627.7 514.0 L664.6 508.0 L700.9 498.6 L737.2 492.6" fill="none" stroke="#4f7dc0" stroke-width="1.7" stroke-linejoin="round"/>
<path d="M554.8 517.9 L591.0 517.5 L627.7 513.9 L664.6 508.0 L700.9 497.0 L737.2 484.9" fill="none" stroke="#9bbb59" stroke-width="1.7" stroke-linejoin="round"/>
<path d="M554.8 517.9 L591.0 517.0 L627.7 513.5 L664.6 507.0 L700.9 498.6 L737.2 488.9" fill="none" stroke="#8064a2" stroke-width="1.8" stroke-linejoin="round"/>
<path d="M554.8 517.9 L591.0 517.9 L627.7 516.8 L664.6 514.6 L700.9 512.4 L737.2 508.4" fill="none" stroke="#5ea6d0" stroke-width="1.5" stroke-linejoin="round"/>
<path d="M554.8 517.9 L591.0 516.1 L627.7 512.4 L664.6 505.8 L700.9 495.9 L737.2 482.7" fill="none" stroke="#ec902e" stroke-width="1.6" stroke-linejoin="round"/>
<path d="M554.8 517.9 L591.0 495.5 L627.7 471.7 L664.6 443.6 L700.9 420.0 L737.2 412.6" fill="none" stroke="#58bf58" stroke-width="1.7" stroke-linejoin="round"/>
<path d="M554.8 517.9 L591.0 488.9 L627.7 458.1 L664.6 404.4 L700.9 381.7 L737.2 370.2" fill="none" stroke="#262626" stroke-width="2.3" stroke-linejoin="round" stroke-dasharray="6.5 4"/>
<rect x="552.3" y="514.9" width="5.0" height="6.0" fill="#d41010" stroke="#6a1a1a" stroke-width="0.8"/><rect x="588.5" y="513.5" width="5.0" height="6.0" fill="#d41010" stroke="#6a1a1a" stroke-width="0.8"/><rect x="625.2" y="510.5" width="5.0" height="6.0" fill="#d41010" stroke="#6a1a1a" stroke-width="0.8"/><rect x="662.1" y="505.0" width="5.0" height="6.0" fill="#d41010" stroke="#6a1a1a" stroke-width="0.8"/><rect x="698.4" y="501.3" width="5.0" height="6.0" fill="#d41010" stroke="#6a1a1a" stroke-width="0.8"/><rect x="734.7" y="497.3" width="5.0" height="6.0" fill="#d41010" stroke="#6a1a1a" stroke-width="0.8"/>
<path d="M554.8 514.5L557.4 517.9L554.8 521.3L552.2 517.9Z" fill="#3f6fb8" stroke="#2a4a80" stroke-width="0.5599999999999999"/><path d="M591.0 513.6L593.6 517.0L591.0 520.4L588.4 517.0Z" fill="#3f6fb8" stroke="#2a4a80" stroke-width="0.5599999999999999"/><path d="M627.7 510.6L630.3 514.0L627.7 517.4L625.1 514.0Z" fill="#3f6fb8" stroke="#2a4a80" stroke-width="0.5599999999999999"/><path d="M664.6 504.6L667.2 508.0L664.6 511.4L662.0 508.0Z" fill="#3f6fb8" stroke="#2a4a80" stroke-width="0.5599999999999999"/><path d="M700.9 495.2L703.5 498.6L700.9 502.0L698.3 498.6Z" fill="#3f6fb8" stroke="#2a4a80" stroke-width="0.5599999999999999"/><path d="M737.2 489.2L739.8 492.6L737.2 496.0L734.6 492.6Z" fill="#3f6fb8" stroke="#2a4a80" stroke-width="0.5599999999999999"/>
<path d="M554.8 514.3L557.6 520.6L552.0 520.6Z" fill="#8db04a" stroke="#556b2f" stroke-width="0.5599999999999999"/><path d="M591.0 513.9L593.8 520.2L588.2 520.2Z" fill="#8db04a" stroke="#556b2f" stroke-width="0.5599999999999999"/><path d="M627.7 510.3L630.5 516.6L624.9 516.6Z" fill="#8db04a" stroke="#556b2f" stroke-width="0.5599999999999999"/><path d="M664.6 504.4L667.4 510.7L661.8 510.7Z" fill="#8db04a" stroke="#556b2f" stroke-width="0.5599999999999999"/><path d="M700.9 493.4L703.7 499.7L698.1 499.7Z" fill="#8db04a" stroke="#556b2f" stroke-width="0.5599999999999999"/><path d="M737.2 481.3L740.0 487.6L734.4 487.6Z" fill="#8db04a" stroke="#556b2f" stroke-width="0.5599999999999999"/>
<path d="M552.2 514.7L557.4 521.1M557.4 514.7L552.2 521.1" stroke="#8064a2" stroke-width="1.1" fill="none"/><path d="M588.4 513.8L593.6 520.2M593.6 513.8L588.4 520.2" stroke="#8064a2" stroke-width="1.1" fill="none"/><path d="M625.1 510.3L630.3 516.7M630.3 510.3L625.1 516.7" stroke="#8064a2" stroke-width="1.1" fill="none"/><path d="M662.0 503.8L667.2 510.2M667.2 503.8L662.0 510.2" stroke="#8064a2" stroke-width="1.1" fill="none"/><path d="M698.3 495.4L703.5 501.8M703.5 495.4L698.3 501.8" stroke="#8064a2" stroke-width="1.1" fill="none"/><path d="M734.6 485.7L739.8 492.1M739.8 485.7L734.6 492.1" stroke="#8064a2" stroke-width="1.1" fill="none"/>
<path d="M552.2 514.7L557.4 521.1M557.4 514.7L552.2 521.1M554.8 514.4L554.8 521.4" stroke="#4bacc6" stroke-width="0.9" fill="none"/><path d="M588.4 514.7L593.6 521.1M593.6 514.7L588.4 521.1M591.0 514.4L591.0 521.4" stroke="#4bacc6" stroke-width="0.9" fill="none"/><path d="M625.1 513.6L630.3 520.0M630.3 513.6L625.1 520.0M627.7 513.3L627.7 520.3" stroke="#4bacc6" stroke-width="0.9" fill="none"/><path d="M662.0 511.4L667.2 517.8M667.2 511.4L662.0 517.8M664.6 511.1L664.6 518.1" stroke="#4bacc6" stroke-width="0.9" fill="none"/><path d="M698.3 509.2L703.5 515.6M703.5 509.2L698.3 515.6M700.9 508.9L700.9 515.9" stroke="#4bacc6" stroke-width="0.9" fill="none"/><path d="M734.6 505.2L739.8 511.6M739.8 505.2L734.6 511.6M737.2 504.9L737.2 511.9" stroke="#4bacc6" stroke-width="0.9" fill="none"/>
<ellipse cx="554.8" cy="517.9" rx="2.90" ry="3.30" fill="#e88a28" stroke="#7a4a18" stroke-width="0.8"/><ellipse cx="591.0" cy="516.1" rx="2.90" ry="3.30" fill="#e88a28" stroke="#7a4a18" stroke-width="0.8"/><ellipse cx="627.7" cy="512.4" rx="2.90" ry="3.30" fill="#e88a28" stroke="#7a4a18" stroke-width="0.8"/><ellipse cx="664.6" cy="505.8" rx="2.90" ry="3.30" fill="#e88a28" stroke="#7a4a18" stroke-width="0.8"/><ellipse cx="700.9" cy="495.9" rx="2.90" ry="3.30" fill="#e88a28" stroke="#7a4a18" stroke-width="0.8"/><ellipse cx="737.2" cy="482.7" rx="2.90" ry="3.30" fill="#e88a28" stroke="#7a4a18" stroke-width="0.8"/>
<ellipse cx="554.8" cy="517.9" rx="2.90" ry="3.30" fill="#eeeeee" stroke="#444444" stroke-width="0.8"/><ellipse cx="591.0" cy="488.9" rx="2.90" ry="3.30" fill="#eeeeee" stroke="#444444" stroke-width="0.8"/><ellipse cx="627.7" cy="458.1" rx="2.90" ry="3.30" fill="#eeeeee" stroke="#444444" stroke-width="0.8"/><ellipse cx="664.6" cy="404.4" rx="2.90" ry="3.30" fill="#eeeeee" stroke="#444444" stroke-width="0.8"/><ellipse cx="700.9" cy="381.7" rx="2.90" ry="3.30" fill="#eeeeee" stroke="#444444" stroke-width="0.8"/><ellipse cx="737.2" cy="370.2" rx="2.90" ry="3.30" fill="#eeeeee" stroke="#444444" stroke-width="0.8"/>
<ellipse cx="554.8" cy="517.9" rx="2.5" ry="2.9" fill="#2f9a2f" stroke="#142a14" stroke-width="0.9"/><ellipse cx="591.0" cy="495.5" rx="2.5" ry="2.9" fill="#2f9a2f" stroke="#142a14" stroke-width="0.9"/><ellipse cx="627.7" cy="471.7" rx="2.5" ry="2.9" fill="#2f9a2f" stroke="#142a14" stroke-width="0.9"/><ellipse cx="664.6" cy="443.6" rx="2.5" ry="2.9" fill="#2f9a2f" stroke="#142a14" stroke-width="0.9"/><ellipse cx="700.9" cy="420.0" rx="2.5" ry="2.9" fill="#2f9a2f" stroke="#142a14" stroke-width="0.9"/><ellipse cx="737.2" cy="412.6" rx="2.5" ry="2.9" fill="#2f9a2f" stroke="#142a14" stroke-width="0.9"/>
<ellipse cx="554.8" cy="517.9" rx="2.90" ry="3.30" fill="#d43a94" stroke="#6a2352" stroke-width="0.8"/><ellipse cx="591.0" cy="509.1" rx="2.90" ry="3.30" fill="#d43a94" stroke="#6a2352" stroke-width="0.8"/><ellipse cx="627.7" cy="502.5" rx="2.90" ry="3.30" fill="#d43a94" stroke="#6a2352" stroke-width="0.8"/><ellipse cx="664.6" cy="498.6" rx="2.90" ry="3.30" fill="#d43a94" stroke="#6a2352" stroke-width="0.8"/><ellipse cx="700.9" cy="498.6" rx="2.90" ry="3.30" fill="#d43a94" stroke="#6a2352" stroke-width="0.8"/><ellipse cx="737.2" cy="496.4" rx="2.90" ry="3.30" fill="#d43a94" stroke="#6a2352" stroke-width="0.8"/><line x1="798.7" y1="517.8" x2="1015.7" y2="517.8" stroke="#d9d6d6" stroke-width="2.4"/>
<line x1="800.7" y1="350.0" x2="800.7" y2="518.8" stroke="#bdb9b9" stroke-width="1.7"/>
<line x1="799.9000000000001" y1="350.8" x2="1016.5" y2="350.8" stroke="#9c9797" stroke-width="1.8"/>
<line x1="1015.7" y1="350.0" x2="1015.7" y2="518.8" stroke="#a09b9b" stroke-width="1.7"/>
<line x1="797.7" y1="350.8" x2="800.7" y2="350.8" stroke="#cfcccc" stroke-width="1"/>
<text x="792.7" y="353.7" font-size="7.9" font-weight="bold" text-anchor="end" fill="#3a3a3a">401</text>
<line x1="797.7" y1="371.7" x2="800.7" y2="371.7" stroke="#cfcccc" stroke-width="1"/>
<text x="792.7" y="374.6" font-size="7.9" font-weight="bold" text-anchor="end" fill="#3a3a3a">351</text>
<line x1="797.7" y1="392.6" x2="800.7" y2="392.6" stroke="#cfcccc" stroke-width="1"/>
<text x="792.7" y="395.4" font-size="7.9" font-weight="bold" text-anchor="end" fill="#3a3a3a">301</text>
<line x1="797.7" y1="413.4" x2="800.7" y2="413.4" stroke="#cfcccc" stroke-width="1"/>
<text x="792.7" y="416.3" font-size="7.9" font-weight="bold" text-anchor="end" fill="#3a3a3a">251</text>
<line x1="797.7" y1="434.3" x2="800.7" y2="434.3" stroke="#cfcccc" stroke-width="1"/>
<text x="792.7" y="437.2" font-size="7.9" font-weight="bold" text-anchor="end" fill="#3a3a3a">201</text>
<line x1="797.7" y1="455.2" x2="800.7" y2="455.2" stroke="#cfcccc" stroke-width="1"/>
<text x="792.7" y="458.1" font-size="7.9" font-weight="bold" text-anchor="end" fill="#3a3a3a">151</text>
<line x1="797.7" y1="476.0" x2="800.7" y2="476.0" stroke="#cfcccc" stroke-width="1"/>
<text x="792.7" y="478.9" font-size="7.9" font-weight="bold" text-anchor="end" fill="#3a3a3a">101</text>
<line x1="797.7" y1="496.9" x2="800.7" y2="496.9" stroke="#cfcccc" stroke-width="1"/>
<text x="792.7" y="499.8" font-size="7.9" font-weight="bold" text-anchor="end" fill="#3a3a3a">51</text>
<line x1="797.7" y1="517.8" x2="800.7" y2="517.8" stroke="#cfcccc" stroke-width="1"/>
<text x="792.7" y="520.7" font-size="7.9" font-weight="bold" text-anchor="end" fill="#3a3a3a">1</text>
<text x="890" y="344.7" font-size="12.8" font-weight="bold" text-anchor="middle" textLength="71.2" lengthAdjust="spacingAndGlyphs" fill="#222">Bt-Gt anti-BA</text>
<text x="819.7" y="538.3" font-size="10.5" text-anchor="middle" stroke="#1a1a1a" stroke-width="0.2" textLength="6.0" lengthAdjust="spacingAndGlyphs" transform="rotate(-51 819.7 534.7)" fill="#1a1a1a">0</text>
<text x="906.5" y="545.8" font-size="10.5" text-anchor="middle" stroke="#1a1a1a" stroke-width="0.2" textLength="37.5" lengthAdjust="spacingAndGlyphs" transform="rotate(-51 906.5 542.2)" fill="#1a1a1a">1.0E&#8202;+5</text>
<text x="990.9" y="544.9" font-size="10.5" text-anchor="middle" stroke="#1a1a1a" stroke-width="0.2" textLength="37.5" lengthAdjust="spacingAndGlyphs" transform="rotate(-51 990.9 541.3)" fill="#1a1a1a">1.0E&#8202;+6</text>
<path d="M818.9 517.3 L854.8 466.5 L890.2 431.1 L925.7 401.1 L961.5 374.3 L997.6 368.1" fill="none" stroke="#dc4f98" stroke-width="1.5" stroke-linejoin="round"/>
<path d="M818.9 517.3 L854.8 516.8 L890.2 515.1 L925.7 514.0 L961.5 511.9 L997.6 509.3" fill="none" stroke="#f72a10" stroke-width="1.7" stroke-linejoin="round"/>
<path d="M818.9 517.3 L854.8 517.0 L890.2 516.5 L925.7 515.5 L961.5 514.0 L997.6 513.0" fill="none" stroke="#4f7dc0" stroke-width="1.7" stroke-linejoin="round"/>
<path d="M818.9 517.3 L854.8 517.3 L890.2 517.3 L925.7 517.3 L961.5 517.3 L997.6 517.3" fill="none" stroke="#9bbb59" stroke-width="1.7" stroke-linejoin="round"/>
<path d="M818.9 517.3 L854.8 517.0 L890.2 516.5 L925.7 515.5 L961.5 514.5 L997.6 513.5" fill="none" stroke="#8064a2" stroke-width="1.8" stroke-linejoin="round"/>
<path d="M818.9 517.3 L854.8 517.3 L890.2 517.3 L925.7 517.3 L961.5 517.3 L997.6 517.3" fill="none" stroke="#5ea6d0" stroke-width="1.5" stroke-linejoin="round"/>
<path d="M818.9 517.3 L854.8 517.0 L890.2 516.0 L925.7 515.5 L961.5 514.5 L997.6 513.5" fill="none" stroke="#ec902e" stroke-width="1.6" stroke-linejoin="round"/>
<path d="M818.9 517.0 L854.8 517.0 L890.2 517.0 L925.7 517.0 L961.5 517.0 L997.6 517.0" fill="none" stroke="#58bf58" stroke-width="1.7" stroke-linejoin="round"/>
<path d="M818.9 517.0 L854.8 517.0 L890.2 517.0 L925.7 517.0 L961.5 517.0 L997.6 517.0" fill="none" stroke="#262626" stroke-width="2.3" stroke-linejoin="round" stroke-dasharray="6.5 4"/>
<rect x="816.4" y="514.3" width="5.0" height="6.0" fill="#d41010" stroke="#6a1a1a" stroke-width="0.8"/><rect x="852.3" y="513.8" width="5.0" height="6.0" fill="#d41010" stroke="#6a1a1a" stroke-width="0.8"/><rect x="887.7" y="512.1" width="5.0" height="6.0" fill="#d41010" stroke="#6a1a1a" stroke-width="0.8"/><rect x="923.2" y="511.0" width="5.0" height="6.0" fill="#d41010" stroke="#6a1a1a" stroke-width="0.8"/><rect x="959.0" y="508.9" width="5.0" height="6.0" fill="#d41010" stroke="#6a1a1a" stroke-width="0.8"/><rect x="995.1" y="506.3" width="5.0" height="6.0" fill="#d41010" stroke="#6a1a1a" stroke-width="0.8"/>
<path d="M818.9 513.9L821.5 517.3L818.9 520.7L816.3 517.3Z" fill="#3f6fb8" stroke="#2a4a80" stroke-width="0.5599999999999999"/><path d="M854.8 513.6L857.4 517.0L854.8 520.4L852.2 517.0Z" fill="#3f6fb8" stroke="#2a4a80" stroke-width="0.5599999999999999"/><path d="M890.2 513.1L892.8 516.5L890.2 519.9L887.6 516.5Z" fill="#3f6fb8" stroke="#2a4a80" stroke-width="0.5599999999999999"/><path d="M925.7 512.1L928.3 515.5L925.7 518.9L923.1 515.5Z" fill="#3f6fb8" stroke="#2a4a80" stroke-width="0.5599999999999999"/><path d="M961.5 510.6L964.1 514.0L961.5 517.4L958.9 514.0Z" fill="#3f6fb8" stroke="#2a4a80" stroke-width="0.5599999999999999"/><path d="M997.6 509.6L1000.2 513.0L997.6 516.4L995.0 513.0Z" fill="#3f6fb8" stroke="#2a4a80" stroke-width="0.5599999999999999"/>
<path d="M818.9 513.7L821.7 520.0L816.1 520.0Z" fill="#8db04a" stroke="#556b2f" stroke-width="0.5599999999999999"/><path d="M854.8 513.7L857.6 520.0L852.0 520.0Z" fill="#8db04a" stroke="#556b2f" stroke-width="0.5599999999999999"/><path d="M890.2 513.7L893.0 520.0L887.4 520.0Z" fill="#8db04a" stroke="#556b2f" stroke-width="0.5599999999999999"/><path d="M925.7 513.7L928.5 520.0L922.9 520.0Z" fill="#8db04a" stroke="#556b2f" stroke-width="0.5599999999999999"/><path d="M961.5 513.7L964.3 520.0L958.7 520.0Z" fill="#8db04a" stroke="#556b2f" stroke-width="0.5599999999999999"/><path d="M997.6 513.7L1000.4 520.0L994.8 520.0Z" fill="#8db04a" stroke="#556b2f" stroke-width="0.5599999999999999"/>
<path d="M816.3 514.1L821.5 520.5M821.5 514.1L816.3 520.5" stroke="#8064a2" stroke-width="1.1" fill="none"/><path d="M852.2 513.8L857.4 520.2M857.4 513.8L852.2 520.2" stroke="#8064a2" stroke-width="1.1" fill="none"/><path d="M887.6 513.3L892.8 519.7M892.8 513.3L887.6 519.7" stroke="#8064a2" stroke-width="1.1" fill="none"/><path d="M923.1 512.3L928.3 518.7M928.3 512.3L923.1 518.7" stroke="#8064a2" stroke-width="1.1" fill="none"/><path d="M958.9 511.3L964.1 517.7M964.1 511.3L958.9 517.7" stroke="#8064a2" stroke-width="1.1" fill="none"/><path d="M995.0 510.3L1000.2 516.7M1000.2 510.3L995.0 516.7" stroke="#8064a2" stroke-width="1.1" fill="none"/>
<path d="M816.3 514.1L821.5 520.5M821.5 514.1L816.3 520.5M818.9 513.8L818.9 520.8" stroke="#4bacc6" stroke-width="0.9" fill="none"/><path d="M852.2 514.1L857.4 520.5M857.4 514.1L852.2 520.5M854.8 513.8L854.8 520.8" stroke="#4bacc6" stroke-width="0.9" fill="none"/><path d="M887.6 514.1L892.8 520.5M892.8 514.1L887.6 520.5M890.2 513.8L890.2 520.8" stroke="#4bacc6" stroke-width="0.9" fill="none"/><path d="M923.1 514.1L928.3 520.5M928.3 514.1L923.1 520.5M925.7 513.8L925.7 520.8" stroke="#4bacc6" stroke-width="0.9" fill="none"/><path d="M958.9 514.1L964.1 520.5M964.1 514.1L958.9 520.5M961.5 513.8L961.5 520.8" stroke="#4bacc6" stroke-width="0.9" fill="none"/><path d="M995.0 514.1L1000.2 520.5M1000.2 514.1L995.0 520.5M997.6 513.8L997.6 520.8" stroke="#4bacc6" stroke-width="0.9" fill="none"/>

<ellipse cx="818.9" cy="517.0" rx="2.90" ry="3.30" fill="#eeeeee" stroke="#444444" stroke-width="0.8"/><ellipse cx="854.8" cy="517.0" rx="2.90" ry="3.30" fill="#eeeeee" stroke="#444444" stroke-width="0.8"/><ellipse cx="890.2" cy="517.0" rx="2.90" ry="3.30" fill="#eeeeee" stroke="#444444" stroke-width="0.8"/><ellipse cx="925.7" cy="517.0" rx="2.90" ry="3.30" fill="#eeeeee" stroke="#444444" stroke-width="0.8"/><ellipse cx="961.5" cy="517.0" rx="2.90" ry="3.30" fill="#eeeeee" stroke="#444444" stroke-width="0.8"/><ellipse cx="997.6" cy="517.0" rx="2.90" ry="3.30" fill="#eeeeee" stroke="#444444" stroke-width="0.8"/>
<ellipse cx="818.9" cy="517.0" rx="2.5" ry="2.9" fill="#2f9a2f" stroke="#142a14" stroke-width="0.9"/><ellipse cx="854.8" cy="517.0" rx="2.5" ry="2.9" fill="#2f9a2f" stroke="#142a14" stroke-width="0.9"/><ellipse cx="890.2" cy="517.0" rx="2.5" ry="2.9" fill="#2f9a2f" stroke="#142a14" stroke-width="0.9"/><ellipse cx="925.7" cy="517.0" rx="2.5" ry="2.9" fill="#2f9a2f" stroke="#142a14" stroke-width="0.9"/><ellipse cx="961.5" cy="517.0" rx="2.5" ry="2.9" fill="#2f9a2f" stroke="#142a14" stroke-width="0.9"/><ellipse cx="997.6" cy="517.0" rx="2.5" ry="2.9" fill="#2f9a2f" stroke="#142a14" stroke-width="0.9"/>
<ellipse cx="818.9" cy="517.3" rx="2.90" ry="3.30" fill="#d43a94" stroke="#6a2352" stroke-width="0.8"/><ellipse cx="854.8" cy="466.5" rx="2.90" ry="3.30" fill="#d43a94" stroke="#6a2352" stroke-width="0.8"/><ellipse cx="890.2" cy="431.1" rx="2.90" ry="3.30" fill="#d43a94" stroke="#6a2352" stroke-width="0.8"/><ellipse cx="925.7" cy="401.1" rx="2.90" ry="3.30" fill="#d43a94" stroke="#6a2352" stroke-width="0.8"/><ellipse cx="961.5" cy="374.3" rx="2.90" ry="3.30" fill="#d43a94" stroke="#6a2352" stroke-width="0.8"/><ellipse cx="997.6" cy="368.1" rx="2.90" ry="3.30" fill="#d43a94" stroke="#6a2352" stroke-width="0.8"/>
<line x1="129" y1="614" x2="144" y2="614" stroke="#e070ac" stroke-width="5" stroke-linecap="round"/><ellipse cx="136.7" cy="614" rx="4.3" ry="7.2" fill="#d43a94" stroke="#6a2352" stroke-width="1.0"/><text x="151.5" y="620.6" font-size="19" font-weight="normal" text-anchor="start" textLength="49.5" lengthAdjust="spacingAndGlyphs" fill="#303030">GT anti-BA</text><line x1="210.3" y1="614" x2="225" y2="614" stroke="#f72a10" stroke-width="5" stroke-linecap="round"/><rect x="213.7" y="607.2" width="8.6" height="13.5" fill="#d41010" stroke="#6a1a1a" stroke-width="1.0"/><text x="231" y="620.6" font-size="19" font-weight="normal" text-anchor="start" textLength="57" lengthAdjust="spacingAndGlyphs" fill="#303030">B7 anti-BclA</text><line x1="297.6" y1="614" x2="312.4" y2="614" stroke="#4f7dc0" stroke-width="5" stroke-linecap="round"/><path d="M305.3 605.7L308.5 614L305.3 622.3L302.1 614Z" fill="#3f6fb8" stroke="#2a4a80" stroke-width="0.8"/><text x="319" y="620.6" font-size="19" font-weight="normal" text-anchor="start" textLength="57" lengthAdjust="spacingAndGlyphs" fill="#303030">A5 anti-BclA</text><line x1="385" y1="614" x2="399" y2="614" stroke="#9bbb59" stroke-width="5" stroke-linecap="round"/><path d="M392.5 605.0L397.5 621.2L387.5 621.2Z" fill="#8db04a" stroke="#556b2f" stroke-width="0.8"/><text x="405.8" y="620.6" font-size="19" font-weight="normal" text-anchor="start" textLength="59" lengthAdjust="spacingAndGlyphs" fill="#303030">G10 anti-EA1</text><line x1="476.4" y1="614" x2="490.3" y2="614" stroke="#8064a2" stroke-width="5" stroke-linecap="round"/><path d="M476.4 604.0L490.4 624.0M490.4 604.0L476.4 624.0" stroke="#8064a2" stroke-width="2.2" fill="none"/><text x="496" y="620.6" font-size="19" font-weight="normal" text-anchor="start" textLength="62.8" lengthAdjust="spacingAndGlyphs" fill="#303030">G4 anti-GerQ</text><line x1="571.4" y1="614" x2="585.7" y2="614" stroke="#5a9fd0" stroke-width="5" stroke-linecap="round"/><path d="M571.8 599.5L585.8 628.5M585.8 599.5L571.8 628.5M578.8 599.5L578.8 628.5" stroke="#4bacc6" stroke-width="1.3" fill="none"/><text x="591.6" y="620.6" font-size="19" font-weight="normal" text-anchor="start" textLength="60" lengthAdjust="spacingAndGlyphs" fill="#303030">B2 anti-gerQ</text><line x1="662" y1="614" x2="677" y2="614" stroke="#ec902e" stroke-width="5" stroke-linecap="round"/><ellipse cx="670.3" cy="614" rx="4.3" ry="7.0" fill="#e88a28" stroke="#7a4a18" stroke-width="1.0"/><text x="682" y="620.6" font-size="19" font-weight="normal" text-anchor="start" textLength="68" lengthAdjust="spacingAndGlyphs" fill="#303030">F3 anti-sodA-1</text><line x1="756.7" y1="614" x2="771.7" y2="614" stroke="#3cb03c" stroke-width="5" stroke-linecap="round"/><path d="M765 605.7L768.0 614L765 622.3L762.0 614Z" fill="#2f9a2f" stroke="#142a14" stroke-width="0.8"/><text x="778.6" y="620.6" font-size="19" font-weight="normal" text-anchor="start" textLength="61.4" lengthAdjust="spacingAndGlyphs" fill="#303030">F1anti-p5303</text><line x1="850" y1="614" x2="864.4" y2="614" stroke="#111" stroke-width="5" stroke-linecap="round"/><ellipse cx="856.3" cy="614" rx="4.5" ry="7.0" fill="#ffffff" stroke="#111111" stroke-width="1.0"/><text x="870.4" y="620.6" font-size="19" font-weight="normal" text-anchor="start" textLength="65.4" lengthAdjust="spacingAndGlyphs" fill="#303030">A3 anti-p5303</text>
</svg></body></html>
